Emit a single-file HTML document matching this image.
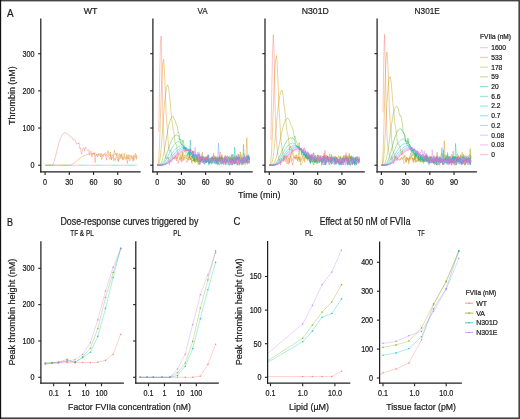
<!DOCTYPE html>
<html><head><meta charset="utf-8"><style>
html,body{margin:0;padding:0;background:#fff;}
#w{width:520px;height:419px;will-change:transform;background:#fff;}
svg{display:block;}
text{font-family:"Liberation Sans", sans-serif;fill:#1a1a1a;stroke:#1a1a1a;stroke-width:0.22px;}
</style></head><body><div id="w">
<svg width="520" height="419" viewBox="0 0 520 419">
<g>
<rect x="0" y="0" width="520" height="419" fill="#fff"/>
<path d="M45.1,165.2L45.9,165.2L46.7,165.2L47.5,165.2L48.3,165.2L49.1,165.2L49.9,165.2L50.7,165.2L51.6,165.2L52.4,164.9L53.2,163.8L54.0,161.8L54.8,159.1L55.6,156.1L56.4,152.8L57.2,149.5L58.0,146.3L58.8,143.4L59.6,140.7L60.4,138.5L61.2,136.6L62.0,135.1L62.9,134.0L63.7,133.3L64.5,132.9L65.3,132.9L66.1,133.1L66.9,133.4L67.7,134.0L68.5,134.6L69.3,135.1L70.1,136.2L70.9,137.4L71.7,137.5L72.5,138.0L73.3,139.8L74.2,139.7L75.0,139.8L75.8,142.4L76.6,144.3L77.4,143.0L78.2,143.9L79.0,142.8L79.8,148.7L80.6,148.0L81.4,154.2L82.2,151.7L83.0,148.1L83.8,147.8L84.6,151.2L85.5,147.0L86.3,148.7L87.1,149.6L87.9,150.5L88.7,149.7L89.5,155.2L90.3,151.2L91.1,151.6L91.9,157.2L92.7,152.8L93.5,154.4L94.3,152.4L95.1,162.6L95.9,154.7L96.7,154.1L97.6,157.0L98.4,153.9L99.2,155.7L100.0,154.5L100.8,157.0L101.6,153.5L102.4,154.8L103.2,156.6L104.0,155.0L104.8,153.7L105.6,152.6L106.4,160.2L107.2,154.8L108.0,155.9L108.9,157.2L109.7,159.3L110.5,154.3L111.3,160.0L112.1,156.0L112.9,154.4L113.7,160.9L114.5,158.1L115.3,160.4L116.1,157.0L116.9,154.2L117.7,153.1L118.5,161.6L119.3,159.0L120.2,156.1L121.0,154.2L121.8,156.8L122.6,159.5L123.4,157.2L124.2,157.9L125.0,158.3L125.8,159.5L126.6,157.0L127.4,163.5L128.2,158.1L129.0,158.4L129.8,160.8L130.6,159.1L131.4,155.3L132.3,158.4L133.1,161.2L133.9,155.0L134.7,156.8L135.5,153.3L136.3,157.9L136.8,159.1" fill="none" stroke="#F8766D" stroke-width="0.7" stroke-opacity="0.6" stroke-linejoin="round"/>
<path d="M45.1,165.2L45.9,165.2L46.7,165.2L47.5,165.2L48.3,165.2L49.1,165.2L49.9,165.2L50.7,165.2L51.6,165.2L52.4,165.2L53.2,165.2L54.0,165.2L54.8,165.2L55.6,165.2L56.4,165.2L57.2,165.2L58.0,165.2L58.8,165.2L59.6,165.2L60.4,165.2L61.2,165.2L62.0,165.2L62.9,165.2L63.7,165.2L64.5,165.2L65.3,165.2L66.1,165.2L66.9,165.2L67.7,165.2L68.5,165.2L69.3,165.2L70.1,165.1L70.9,164.8L71.7,164.5L72.5,164.1L73.3,163.6L74.2,163.0L75.0,162.4L75.8,161.7L76.6,161.1L77.4,160.4L78.2,159.7L79.0,159.0L79.8,158.4L80.6,157.8L81.4,157.2L82.2,156.7L83.0,156.2L83.8,155.7L84.6,155.3L85.5,155.0L86.3,154.6L87.1,154.4L87.9,154.2L88.7,154.0L89.5,153.8L90.3,153.7L91.1,153.9L91.9,154.4L92.7,154.1L93.5,153.0L94.3,154.2L95.1,153.8L95.9,153.9L96.7,155.5L97.6,155.0L98.4,154.0L99.2,154.2L100.0,153.5L100.8,153.6L101.6,159.4L102.4,158.2L103.2,154.9L104.0,153.8L104.8,154.7L105.6,155.6L106.4,154.7L107.2,154.1L108.0,150.6L108.9,155.8L109.7,154.3L110.5,152.0L111.3,159.4L112.1,158.7L112.9,157.7L113.7,155.6L114.5,150.4L115.3,154.7L116.1,153.1L116.9,156.1L117.7,160.7L118.5,160.5L119.3,153.7L120.2,155.5L121.0,158.6L121.8,153.7L122.6,159.2L123.4,159.8L124.2,153.2L125.0,157.8L125.8,158.6L126.6,154.6L127.4,158.6L128.2,154.7L129.0,158.9L129.8,154.9L130.6,156.4L131.4,157.5L132.3,158.5L133.1,156.2L133.9,160.6L134.7,157.4L135.5,157.7L136.3,155.5L136.8,159.5" fill="none" stroke="#DE8C00" stroke-width="0.7" stroke-opacity="0.6" stroke-linejoin="round"/>
<path d="M45.1,165.2L136.8,165.2" fill="none" stroke="#B79F00" stroke-width="0.8" stroke-opacity="0.55" stroke-linejoin="round" stroke-dasharray="1.6 14.4" stroke-dashoffset="-0.0"/>
<path d="M45.1,165.2L136.8,165.2" fill="none" stroke="#7CAE00" stroke-width="0.8" stroke-opacity="0.55" stroke-linejoin="round" stroke-dasharray="1.6 14.4" stroke-dashoffset="-1.6"/>
<path d="M45.1,165.2L136.8,165.2" fill="none" stroke="#00BA38" stroke-width="0.8" stroke-opacity="0.55" stroke-linejoin="round" stroke-dasharray="1.6 14.4" stroke-dashoffset="-3.2"/>
<path d="M45.1,165.2L136.8,165.2" fill="none" stroke="#00C08B" stroke-width="0.8" stroke-opacity="0.55" stroke-linejoin="round" stroke-dasharray="1.6 14.4" stroke-dashoffset="-4.8"/>
<path d="M45.1,165.2L136.8,165.2" fill="none" stroke="#00BFC4" stroke-width="0.8" stroke-opacity="0.55" stroke-linejoin="round" stroke-dasharray="1.6 14.4" stroke-dashoffset="-6.4"/>
<path d="M45.1,165.2L136.8,165.2" fill="none" stroke="#00B4F0" stroke-width="0.8" stroke-opacity="0.55" stroke-linejoin="round" stroke-dasharray="1.6 14.4" stroke-dashoffset="-8.0"/>
<path d="M45.1,165.2L136.8,165.2" fill="none" stroke="#619CFF" stroke-width="0.8" stroke-opacity="0.55" stroke-linejoin="round" stroke-dasharray="1.6 14.4" stroke-dashoffset="-9.6"/>
<path d="M45.1,165.2L136.8,165.2" fill="none" stroke="#C77CFF" stroke-width="0.8" stroke-opacity="0.55" stroke-linejoin="round" stroke-dasharray="1.6 14.4" stroke-dashoffset="-11.2"/>
<path d="M45.1,165.2L136.8,165.2" fill="none" stroke="#F564E3" stroke-width="0.8" stroke-opacity="0.55" stroke-linejoin="round" stroke-dasharray="1.6 14.4" stroke-dashoffset="-12.8"/>
<path d="M45.1,165.2L136.8,165.2" fill="none" stroke="#FF64B0" stroke-width="0.8" stroke-opacity="0.55" stroke-linejoin="round" stroke-dasharray="1.6 14.4" stroke-dashoffset="-14.4"/>
<line x1="40.80" y1="18.50" x2="40.80" y2="172.53" stroke="#231f20" stroke-width="1.25"/>
<line x1="40.17" y1="171.90" x2="140.60" y2="171.90" stroke="#231f20" stroke-width="1.25"/>
<line x1="38.10" y1="165.20" x2="40.80" y2="165.20" stroke="#231f20" stroke-width="1.1"/>
<line x1="38.10" y1="128.03" x2="40.80" y2="128.03" stroke="#231f20" stroke-width="1.1"/>
<line x1="38.10" y1="90.86" x2="40.80" y2="90.86" stroke="#231f20" stroke-width="1.1"/>
<line x1="38.10" y1="53.69" x2="40.80" y2="53.69" stroke="#231f20" stroke-width="1.1"/>
<line x1="45.10" y1="171.90" x2="45.10" y2="174.90" stroke="#231f20" stroke-width="1.1"/>
<text x="45.10" y="185.40" font-size="8.2" text-anchor="middle" textLength="3.99" lengthAdjust="spacingAndGlyphs">0</text>
<line x1="69.31" y1="171.90" x2="69.31" y2="174.90" stroke="#231f20" stroke-width="1.1"/>
<text x="69.31" y="185.40" font-size="8.2" text-anchor="middle" textLength="7.98" lengthAdjust="spacingAndGlyphs">30</text>
<line x1="93.52" y1="171.90" x2="93.52" y2="174.90" stroke="#231f20" stroke-width="1.1"/>
<text x="93.52" y="185.40" font-size="8.2" text-anchor="middle" textLength="7.98" lengthAdjust="spacingAndGlyphs">60</text>
<line x1="117.73" y1="171.90" x2="117.73" y2="174.90" stroke="#231f20" stroke-width="1.1"/>
<text x="117.73" y="185.40" font-size="8.2" text-anchor="middle" textLength="7.98" lengthAdjust="spacingAndGlyphs">90</text>
<text x="90.65" y="13.80" font-size="9.95" text-anchor="middle" textLength="13.70" lengthAdjust="spacingAndGlyphs">WT</text>
<path d="M158.8,131.9L159.6,81.0L160.4,43.0L161.2,35.8L162.0,76.0L162.8,115.8L163.7,136.5L164.5,151.0L165.3,154.5L166.1,158.6L166.9,157.2L167.7,159.1L168.5,157.2L169.3,165.2L170.1,160.2L170.9,162.3L171.7,161.5L172.5,158.3L173.3,158.5L174.1,158.8L175.0,158.4L175.8,155.0L176.6,161.0L177.4,156.5L178.2,163.5L179.0,159.6L179.8,158.1L180.6,160.4L181.4,158.1L182.2,158.3L183.0,161.2L183.8,158.7L184.6,159.3L185.4,160.0L186.3,160.6L187.1,162.6L187.9,157.2L188.7,160.5L189.5,154.7L190.3,159.7L191.1,156.2L191.9,157.3L192.7,157.5L193.5,156.7L194.3,156.5L195.1,155.4L195.9,154.6L196.7,159.3L197.5,161.3L198.4,164.5L199.2,159.4L200.0,156.8L200.8,157.7L201.6,158.3L202.4,159.3L203.2,159.9L204.0,159.1L204.8,157.6L205.6,162.4L206.4,156.9L207.2,161.8L208.0,158.9L208.8,159.9L209.7,159.3L210.5,160.8L211.3,161.1L212.1,159.0L212.9,160.9L213.7,153.0L214.5,159.4L215.3,160.0L216.1,159.7L216.9,160.9L217.7,164.0L218.5,159.1L219.3,157.8L220.1,161.9L221.0,158.5L221.8,161.2L222.6,158.6L223.4,157.7L224.2,157.4L225.0,157.6L225.8,160.1L226.6,156.6L227.4,159.5L228.2,157.7L229.0,157.0L229.8,159.2L230.6,161.4L231.4,157.2L232.3,161.0L233.1,160.5L233.9,161.0L234.7,156.6L235.5,158.9L236.3,163.5L237.1,156.9L237.9,153.9L238.7,154.5L239.5,159.8L240.3,158.4L241.1,157.4L241.9,156.5L242.7,158.5L243.5,161.0L244.4,156.8L245.2,157.2L246.0,161.5L246.8,159.4L247.6,157.9L248.4,158.5L249.2,157.4L249.4,156.8" fill="none" stroke="#F8766D" stroke-width="0.7" stroke-opacity="0.6" stroke-linejoin="round"/>
<path d="M157.2,165.2L158.0,164.7L158.8,158.9L159.6,143.1L160.4,119.5L161.2,94.7L162.0,74.5L162.8,62.6L163.7,59.4L164.5,71.6L165.3,90.9L166.1,112.5L166.9,124.0L167.7,133.9L168.5,145.9L169.3,151.2L170.1,151.2L170.9,150.4L171.7,155.6L172.5,157.4L173.3,158.1L174.1,157.2L175.0,159.4L175.8,156.6L176.6,158.9L177.4,157.4L178.2,155.2L179.0,155.9L179.8,159.6L180.6,156.3L181.4,162.1L182.2,157.4L183.0,152.2L183.8,158.5L184.6,157.2L185.4,158.1L186.3,158.3L187.1,159.3L187.9,159.6L188.7,158.9L189.5,159.2L190.3,158.0L191.1,158.4L191.9,163.4L192.7,153.6L193.5,157.9L194.3,162.0L195.1,158.6L195.9,158.3L196.7,157.8L197.5,156.7L198.4,160.2L199.2,164.8L200.0,158.5L200.8,157.7L201.6,156.0L202.4,159.9L203.2,158.8L204.0,157.3L204.8,158.9L205.6,158.8L206.4,157.7L207.2,160.5L208.0,154.7L208.8,160.3L209.7,158.2L210.5,159.0L211.3,159.8L212.1,157.0L212.9,156.0L213.7,155.0L214.5,156.9L215.3,159.2L216.1,156.3L216.9,161.5L217.7,158.1L218.5,157.1L219.3,157.0L220.1,160.8L221.0,161.6L221.8,154.5L222.6,159.4L223.4,161.9L224.2,161.0L225.0,158.2L225.8,155.6L226.6,158.3L227.4,155.6L228.2,157.8L229.0,157.2L229.8,156.1L230.6,159.1L231.4,157.6L232.3,159.2L233.1,159.7L233.9,156.8L234.7,160.1L235.5,158.1L236.3,160.1L237.1,158.5L237.9,159.5L238.7,155.9L239.5,158.2L240.3,158.2L241.1,154.7L241.9,164.8L242.7,160.8L243.5,164.5L244.4,158.4L245.2,157.4L246.0,156.9L246.8,137.8L247.6,160.3L248.4,154.5L249.2,157.7L249.4,159.0" fill="none" stroke="#DE8C00" stroke-width="0.7" stroke-opacity="0.6" stroke-linejoin="round"/>
<path d="M157.2,165.2L158.0,165.2L158.8,164.4L159.6,161.8L160.4,156.4L161.2,148.2L162.0,137.8L162.8,126.3L163.7,114.9L164.5,104.6L165.3,96.1L166.1,90.0L166.9,86.3L167.7,84.9L168.5,87.3L169.3,93.5L170.1,100.9L170.9,110.9L171.7,118.2L172.5,125.2L173.3,130.3L174.1,133.6L175.0,143.1L175.8,144.0L176.6,144.9L177.4,154.4L178.2,153.3L179.0,155.6L179.8,154.2L180.6,154.6L181.4,158.1L182.2,152.4L183.0,158.4L183.8,159.8L184.6,154.9L185.4,155.8L186.3,158.7L187.1,157.0L187.9,156.1L188.7,158.0L189.5,156.6L190.3,160.1L191.1,157.9L191.9,161.8L192.7,160.1L193.5,160.7L194.3,156.8L195.1,161.7L195.9,157.5L196.7,162.0L197.5,158.6L198.4,158.8L199.2,160.1L200.0,156.3L200.8,162.0L201.6,156.8L202.4,152.2L203.2,160.1L204.0,158.2L204.8,161.8L205.6,158.3L206.4,162.2L207.2,156.8L208.0,159.4L208.8,162.4L209.7,161.2L210.5,161.9L211.3,158.9L212.1,156.4L212.9,159.2L213.7,161.0L214.5,160.2L215.3,158.1L216.1,163.9L216.9,157.0L217.7,157.4L218.5,163.9L219.3,155.7L220.1,162.1L221.0,158.9L221.8,155.7L222.6,162.1L223.4,162.6L224.2,160.9L225.0,160.9L225.8,158.7L226.6,159.6L227.4,159.5L228.2,159.5L229.0,158.8L229.8,160.4L230.6,157.7L231.4,158.4L232.3,160.7L233.1,154.3L233.9,161.3L234.7,156.7L235.5,160.1L236.3,157.6L237.1,157.2L237.9,156.4L238.7,155.2L239.5,160.3L240.3,151.9L241.1,157.5L241.9,160.2L242.7,161.5L243.5,153.0L244.4,154.6L245.2,158.4L246.0,156.6L246.8,155.4L247.6,158.1L248.4,159.3L249.2,158.4L249.4,156.4" fill="none" stroke="#B79F00" stroke-width="0.7" stroke-opacity="0.6" stroke-linejoin="round"/>
<path d="M157.2,165.2L158.0,165.2L158.8,165.1L159.6,164.9L160.4,164.2L161.2,162.9L162.0,160.8L162.8,157.8L163.7,154.1L164.5,149.7L165.3,145.0L166.1,140.1L166.9,135.2L167.7,130.7L168.5,126.6L169.3,123.1L170.1,120.4L170.9,118.4L171.7,117.1L172.5,116.5L173.3,116.5L174.1,119.0L175.0,120.4L175.8,122.9L176.6,125.1L177.4,126.7L178.2,133.1L179.0,132.6L179.8,139.7L180.6,142.4L181.4,144.9L182.2,143.5L183.0,146.2L183.8,150.1L184.6,151.5L185.4,150.2L186.3,156.7L187.1,155.2L187.9,154.1L188.7,152.8L189.5,152.6L190.3,149.2L191.1,155.9L191.9,158.5L192.7,156.9L193.5,159.1L194.3,157.8L195.1,162.8L195.9,160.0L196.7,159.1L197.5,162.3L198.4,162.1L199.2,156.9L200.0,164.7L200.8,159.5L201.6,160.6L202.4,157.0L203.2,160.4L204.0,164.0L204.8,157.5L205.6,161.6L206.4,156.0L207.2,156.8L208.0,160.7L208.8,158.8L209.7,160.2L210.5,162.6L211.3,158.3L212.1,159.7L212.9,158.8L213.7,158.3L214.5,157.6L215.3,158.4L216.1,160.9L216.9,160.5L217.7,159.8L218.5,161.0L219.3,161.2L220.1,156.6L221.0,159.6L221.8,156.5L222.6,162.4L223.4,160.8L224.2,161.7L225.0,161.6L225.8,161.4L226.6,161.0L227.4,161.7L228.2,156.8L229.0,159.2L229.8,162.4L230.6,161.9L231.4,159.1L232.3,159.5L233.1,162.1L233.9,158.7L234.7,163.9L235.5,161.8L236.3,156.9L237.1,165.2L237.9,161.2L238.7,158.6L239.5,157.1L240.3,162.5L241.1,162.7L241.9,165.2L242.7,163.7L243.5,160.6L244.4,162.0L245.2,160.8L246.0,161.1L246.8,160.1L247.6,164.4L248.4,161.4L249.2,161.5L249.4,160.9" fill="none" stroke="#7CAE00" stroke-width="0.7" stroke-opacity="0.6" stroke-linejoin="round"/>
<path d="M157.2,165.2L158.0,165.2L158.8,165.2L159.6,165.1L160.4,165.0L161.2,164.6L162.0,163.9L162.8,163.0L163.7,161.7L164.5,160.1L165.3,158.2L166.1,156.1L166.9,153.7L167.7,151.3L168.5,148.9L169.3,146.5L170.1,144.2L170.9,142.1L171.7,140.3L172.5,138.7L173.3,137.4L174.1,136.3L175.0,135.6L175.8,135.2L176.6,134.8L177.4,135.4L178.2,135.5L179.0,137.6L179.8,140.1L180.6,139.0L181.4,142.2L182.2,142.6L183.0,140.0L183.8,144.0L184.6,148.8L185.4,147.6L186.3,150.7L187.1,151.6L187.9,155.9L188.7,152.0L189.5,157.4L190.3,154.7L191.1,153.9L191.9,153.5L192.7,151.0L193.5,160.7L194.3,159.6L195.1,160.7L195.9,159.0L196.7,157.2L197.5,160.6L198.4,160.0L199.2,161.4L200.0,160.5L200.8,160.3L201.6,159.7L202.4,162.8L203.2,159.9L204.0,158.6L204.8,159.2L205.6,162.8L206.4,158.9L207.2,158.4L208.0,161.0L208.8,163.1L209.7,163.7L210.5,160.3L211.3,162.8L212.1,163.5L212.9,158.5L213.7,158.5L214.5,159.1L215.3,157.7L216.1,158.6L216.9,163.2L217.7,158.1L218.5,160.4L219.3,159.7L220.1,157.2L221.0,159.7L221.8,157.2L222.6,160.6L223.4,161.6L224.2,162.3L225.0,161.0L225.8,164.5L226.6,160.9L227.4,161.0L228.2,161.9L229.0,165.2L229.8,165.2L230.6,159.2L231.4,162.9L232.3,157.7L233.1,162.3L233.9,159.9L234.7,164.0L235.5,162.2L236.3,155.3L237.1,159.4L237.9,157.0L238.7,158.6L239.5,164.0L240.3,160.7L241.1,161.1L241.9,162.2L242.7,159.4L243.5,157.2L244.4,161.8L245.2,158.2L246.0,157.6L246.8,163.1L247.6,156.8L248.4,157.0L249.2,160.1L249.4,156.9" fill="none" stroke="#00BA38" stroke-width="0.7" stroke-opacity="0.6" stroke-linejoin="round"/>
<path d="M157.2,165.2L158.0,165.2L158.8,165.2L159.6,165.2L160.4,165.1L161.2,164.9L162.0,164.5L162.8,164.0L163.7,163.3L164.5,162.3L165.3,161.2L166.1,159.8L166.9,158.3L167.7,156.7L168.5,155.0L169.3,153.3L170.1,151.6L170.9,149.9L171.7,148.4L172.5,146.9L173.3,145.7L174.1,144.5L175.0,143.6L175.8,142.9L176.6,142.3L177.4,142.0L178.2,141.9L179.0,141.5L179.8,142.3L180.6,142.8L181.4,144.3L182.2,144.4L183.0,145.3L183.8,145.9L184.6,149.4L185.4,147.8L186.3,151.2L187.1,150.7L187.9,150.2L188.7,149.3L189.5,154.5L190.3,139.9L191.1,154.5L191.9,152.7L192.7,156.7L193.5,151.0L194.3,161.1L195.1,153.9L195.9,155.0L196.7,155.5L197.5,160.1L198.4,153.8L199.2,156.1L200.0,156.2L200.8,159.7L201.6,159.9L202.4,156.6L203.2,158.8L204.0,160.5L204.8,161.7L205.6,159.3L206.4,163.0L207.2,158.8L208.0,159.8L208.8,163.7L209.7,159.2L210.5,157.6L211.3,159.8L212.1,163.3L212.9,161.8L213.7,158.5L214.5,163.4L215.3,161.3L216.1,157.9L216.9,161.1L217.7,161.8L218.5,158.7L219.3,156.9L220.1,159.7L221.0,163.5L221.8,164.2L222.6,161.1L223.4,164.6L224.2,160.8L225.0,158.6L225.8,165.2L226.6,161.0L227.4,159.9L228.2,161.8L229.0,159.7L229.8,159.5L230.6,158.3L231.4,154.5L232.3,159.9L233.1,162.6L233.9,162.9L234.7,147.1L235.5,159.0L236.3,159.9L237.1,159.6L237.9,160.2L238.7,157.0L239.5,158.2L240.3,158.3L241.1,162.2L241.9,161.4L242.7,163.6L243.5,144.5L244.4,160.4L245.2,163.4L246.0,162.1L246.8,156.1L247.6,161.0L248.4,163.0L249.2,163.4L249.4,160.8" fill="none" stroke="#00C08B" stroke-width="0.7" stroke-opacity="0.6" stroke-linejoin="round"/>
<path d="M157.2,165.2L158.0,165.2L158.8,165.2L159.6,165.2L160.4,165.1L161.2,165.0L162.0,164.9L162.8,164.6L163.7,164.2L164.5,163.6L165.3,163.0L166.1,162.2L166.9,161.2L167.7,160.2L168.5,159.0L169.3,157.8L170.1,156.6L170.9,155.3L171.7,154.1L172.5,152.9L173.3,151.7L174.1,150.6L175.0,149.6L175.8,148.8L176.6,148.0L177.4,147.3L178.2,146.8L179.0,146.4L179.8,146.1L180.6,145.9L181.4,146.1L182.2,145.7L183.0,145.7L183.8,149.0L184.6,146.5L185.4,149.6L186.3,147.2L187.1,149.9L187.9,150.9L188.7,149.1L189.5,153.4L190.3,148.6L191.1,156.3L191.9,156.1L192.7,157.8L193.5,154.6L194.3,156.5L195.1,155.0L195.9,154.7L196.7,155.7L197.5,155.4L198.4,155.7L199.2,158.7L200.0,160.4L200.8,161.2L201.6,157.4L202.4,160.5L203.2,161.7L204.0,161.5L204.8,160.3L205.6,159.3L206.4,160.5L207.2,162.4L208.0,158.9L208.8,165.2L209.7,161.0L210.5,158.0L211.3,159.8L212.1,157.7L212.9,160.3L213.7,159.2L214.5,160.5L215.3,161.6L216.1,159.8L216.9,158.4L217.7,165.2L218.5,162.6L219.3,165.2L220.1,162.9L221.0,163.7L221.8,161.9L222.6,161.5L223.4,158.6L224.2,158.0L225.0,162.7L225.8,162.0L226.6,159.4L227.4,162.3L228.2,161.8L229.0,165.1L229.8,159.2L230.6,160.3L231.4,163.1L232.3,163.9L233.1,163.3L233.9,159.9L234.7,162.0L235.5,163.7L236.3,161.6L237.1,158.9L237.9,158.0L238.7,157.8L239.5,160.6L240.3,160.3L241.1,160.2L241.9,159.3L242.7,159.5L243.5,163.0L244.4,162.5L245.2,161.7L246.0,159.2L246.8,162.0L247.6,162.6L248.4,158.5L249.2,157.5L249.4,162.9" fill="none" stroke="#00BFC4" stroke-width="0.7" stroke-opacity="0.6" stroke-linejoin="round"/>
<path d="M157.2,165.2L158.0,165.2L158.8,165.2L159.6,165.2L160.4,165.2L161.2,165.1L162.0,165.0L162.8,164.8L163.7,164.5L164.5,164.2L165.3,163.7L166.1,163.1L166.9,162.5L167.7,161.7L168.5,160.8L169.3,159.9L170.1,158.9L170.9,157.9L171.7,156.8L172.5,155.8L173.3,154.7L174.1,153.7L175.0,152.8L175.8,151.8L176.6,151.0L177.4,150.2L178.2,149.6L179.0,149.0L179.8,148.5L180.6,148.1L181.4,147.7L182.2,147.5L183.0,147.4L183.8,147.4L184.6,147.2L185.4,149.7L186.3,148.0L187.1,149.5L187.9,149.3L188.7,149.4L189.5,155.2L190.3,152.3L191.1,152.9L191.9,152.3L192.7,151.7L193.5,153.2L194.3,157.1L195.1,154.4L195.9,158.1L196.7,155.1L197.5,157.7L198.4,158.0L199.2,157.7L200.0,161.8L200.8,159.2L201.6,161.4L202.4,156.9L203.2,156.3L204.0,162.6L204.8,164.5L205.6,159.1L206.4,161.1L207.2,162.0L208.0,154.9L208.8,161.0L209.7,162.5L210.5,160.9L211.3,159.7L212.1,156.8L212.9,159.7L213.7,163.2L214.5,161.6L215.3,156.4L216.1,164.4L216.9,160.7L217.7,158.0L218.5,160.0L219.3,161.1L220.1,162.6L221.0,160.3L221.8,159.5L222.6,160.2L223.4,158.4L224.2,160.2L225.0,157.8L225.8,160.4L226.6,158.7L227.4,161.4L228.2,156.8L229.0,157.9L229.8,159.2L230.6,162.9L231.4,160.3L232.3,165.2L233.1,161.5L233.9,160.3L234.7,162.7L235.5,160.4L236.3,159.2L237.1,156.7L237.9,160.7L238.7,164.2L239.5,165.2L240.3,161.1L241.1,158.7L241.9,158.2L242.7,160.5L243.5,162.2L244.4,162.3L245.2,161.0L246.0,160.5L246.8,159.4L247.6,160.4L248.4,156.2L249.2,160.4L249.4,159.6" fill="none" stroke="#00B4F0" stroke-width="0.7" stroke-opacity="0.6" stroke-linejoin="round"/>
<path d="M157.2,165.2L158.0,165.2L158.8,165.2L159.6,165.2L160.4,165.2L161.2,165.1L162.0,165.0L162.8,164.9L163.7,164.7L164.5,164.4L165.3,164.1L166.1,163.6L166.9,163.1L167.7,162.5L168.5,161.8L169.3,161.0L170.1,160.2L170.9,159.3L171.7,158.4L172.5,157.4L173.3,156.5L174.1,155.6L175.0,154.7L175.8,153.8L176.6,153.0L177.4,152.2L178.2,151.5L179.0,150.9L179.8,150.3L180.6,149.8L181.4,149.4L182.2,149.1L183.0,148.8L183.8,148.6L184.6,148.5L185.4,148.6L186.3,148.6L187.1,148.1L187.9,148.8L188.7,151.3L189.5,151.3L190.3,152.9L191.1,153.3L191.9,154.0L192.7,155.9L193.5,153.1L194.3,152.7L195.1,154.9L195.9,156.9L196.7,155.9L197.5,158.4L198.4,154.8L199.2,152.2L200.0,163.8L200.8,157.3L201.6,158.3L202.4,158.2L203.2,159.5L204.0,162.4L204.8,159.4L205.6,160.3L206.4,159.9L207.2,159.8L208.0,160.9L208.8,154.8L209.7,162.8L210.5,161.0L211.3,163.0L212.1,160.6L212.9,156.8L213.7,160.4L214.5,162.2L215.3,163.4L216.1,159.2L216.9,162.1L217.7,159.1L218.5,143.1L219.3,161.7L220.1,160.7L221.0,164.3L221.8,157.9L222.6,163.2L223.4,160.3L224.2,159.6L225.0,155.4L225.8,159.6L226.6,158.8L227.4,161.8L228.2,161.0L229.0,160.7L229.8,158.3L230.6,162.9L231.4,159.8L232.3,154.3L233.1,162.8L233.9,164.8L234.7,161.9L235.5,161.0L236.3,157.0L237.1,159.6L237.9,158.1L238.7,162.3L239.5,160.8L240.3,160.0L241.1,162.6L241.9,160.0L242.7,161.3L243.5,160.2L244.4,163.8L245.2,165.2L246.0,157.6L246.8,160.6L247.6,160.9L248.4,154.9L249.2,158.4L249.4,159.6" fill="none" stroke="#619CFF" stroke-width="0.7" stroke-opacity="0.6" stroke-linejoin="round"/>
<path d="M157.2,165.2L158.0,165.2L158.8,165.2L159.6,165.2L160.4,165.2L161.2,165.1L162.0,165.1L162.8,165.0L163.7,164.8L164.5,164.6L165.3,164.3L166.1,163.9L166.9,163.4L167.7,162.9L168.5,162.3L169.3,161.6L170.1,160.9L170.9,160.1L171.7,159.3L172.5,158.5L173.3,157.6L174.1,156.8L175.0,155.9L175.8,155.1L176.6,154.3L177.4,153.6L178.2,152.8L179.0,152.2L179.8,151.6L180.6,151.1L181.4,150.6L182.2,150.2L183.0,149.9L183.8,149.6L184.6,149.4L185.4,149.3L186.3,149.3L187.1,149.0L187.9,149.4L188.7,149.8L189.5,151.0L190.3,150.0L191.1,150.1L191.9,150.0L192.7,152.6L193.5,153.4L194.3,151.9L195.1,147.3L195.9,155.9L196.7,156.1L197.5,152.3L198.4,159.3L199.2,162.9L200.0,155.3L200.8,154.7L201.6,155.1L202.4,156.1L203.2,156.2L204.0,160.4L204.8,156.7L205.6,161.5L206.4,162.9L207.2,160.0L208.0,162.6L208.8,162.3L209.7,161.4L210.5,160.9L211.3,159.7L212.1,162.5L212.9,161.6L213.7,160.6L214.5,160.0L215.3,159.3L216.1,158.7L216.9,159.9L217.7,159.5L218.5,159.0L219.3,160.6L220.1,160.1L221.0,162.6L221.8,160.1L222.6,158.4L223.4,162.1L224.2,157.6L225.0,161.8L225.8,158.2L226.6,156.9L227.4,160.1L228.2,161.5L229.0,159.6L229.8,161.6L230.6,162.7L231.4,158.3L232.3,165.0L233.1,158.6L233.9,162.4L234.7,158.6L235.5,161.8L236.3,156.6L237.1,161.8L237.9,165.2L238.7,154.1L239.5,160.6L240.3,161.0L241.1,160.7L241.9,161.4L242.7,160.0L243.5,162.4L244.4,155.8L245.2,162.3L246.0,159.3L246.8,157.7L247.6,161.2L248.4,158.7L249.2,161.9L249.4,163.0" fill="none" stroke="#C77CFF" stroke-width="0.7" stroke-opacity="0.6" stroke-linejoin="round"/>
<path d="M157.2,165.2L158.0,165.2L158.8,165.2L159.6,165.2L160.4,165.2L161.2,165.2L162.0,165.1L162.8,165.0L163.7,164.9L164.5,164.7L165.3,164.4L166.1,164.1L166.9,163.7L167.7,163.2L168.5,162.7L169.3,162.1L170.1,161.4L170.9,160.7L171.7,160.0L172.5,159.2L173.3,158.4L174.1,157.6L175.0,156.8L175.8,156.1L176.6,155.3L177.4,154.6L178.2,153.9L179.0,153.2L179.8,152.6L180.6,152.1L181.4,151.6L182.2,151.2L183.0,150.8L183.8,150.5L184.6,150.3L185.4,150.1L186.3,150.0L187.1,149.9L187.9,150.2L188.7,150.2L189.5,151.1L190.3,151.5L191.1,150.5L191.9,150.8L192.7,154.3L193.5,153.8L194.3,154.3L195.1,156.7L195.9,156.1L196.7,158.1L197.5,155.0L198.4,158.8L199.2,153.9L200.0,161.8L200.8,156.5L201.6,156.7L202.4,159.8L203.2,162.4L204.0,158.5L204.8,161.8L205.6,156.8L206.4,159.2L207.2,159.6L208.0,159.5L208.8,158.1L209.7,160.0L210.5,158.8L211.3,159.3L212.1,161.3L212.9,157.8L213.7,156.7L214.5,157.9L215.3,160.1L216.1,158.9L216.9,162.9L217.7,162.4L218.5,162.5L219.3,161.9L220.1,158.8L221.0,162.5L221.8,162.1L222.6,164.0L223.4,162.2L224.2,164.4L225.0,158.7L225.8,161.1L226.6,158.7L227.4,157.7L228.2,159.7L229.0,160.0L229.8,160.5L230.6,161.7L231.4,165.2L232.3,160.4L233.1,162.3L233.9,163.0L234.7,162.1L235.5,160.8L236.3,159.2L237.1,163.0L237.9,163.6L238.7,158.4L239.5,159.6L240.3,159.0L241.1,161.4L241.9,163.9L242.7,157.8L243.5,158.0L244.4,162.1L245.2,159.9L246.0,158.4L246.8,155.3L247.6,158.1L248.4,159.5L249.2,161.2L249.4,161.8" fill="none" stroke="#F564E3" stroke-width="0.7" stroke-opacity="0.6" stroke-linejoin="round"/>
<path d="M157.2,165.2L158.0,165.2L158.8,165.2L159.6,165.2L160.4,165.2L161.2,165.2L162.0,165.1L162.8,165.0L163.7,164.9L164.5,164.7L165.3,164.5L166.1,164.2L166.9,163.8L167.7,163.4L168.5,162.9L169.3,162.4L170.1,161.8L170.9,161.1L171.7,160.4L172.5,159.7L173.3,159.0L174.1,158.2L175.0,157.5L175.8,156.7L176.6,156.0L177.4,155.3L178.2,154.6L179.0,154.0L179.8,153.4L180.6,152.8L181.4,152.3L182.2,151.9L183.0,151.5L183.8,151.1L184.6,150.9L185.4,150.7L186.3,150.5L187.1,150.4L187.9,150.3L188.7,149.9L189.5,151.2L190.3,150.1L191.1,152.3L191.9,152.9L192.7,152.2L193.5,152.2L194.3,152.1L195.1,151.6L195.9,157.1L196.7,155.2L197.5,154.1L198.4,155.7L199.2,154.2L200.0,157.0L200.8,158.1L201.6,162.7L202.4,162.2L203.2,156.6L204.0,161.1L204.8,158.1L205.6,157.6L206.4,159.5L207.2,157.1L208.0,160.9L208.8,158.3L209.7,160.0L210.5,163.1L211.3,164.3L212.1,160.5L212.9,156.5L213.7,157.6L214.5,159.2L215.3,158.5L216.1,158.3L216.9,160.9L217.7,157.5L218.5,159.9L219.3,161.6L220.1,152.0L221.0,159.0L221.8,160.8L222.6,158.9L223.4,163.2L224.2,163.3L225.0,156.4L225.8,159.2L226.6,163.0L227.4,164.2L228.2,160.9L229.0,162.9L229.8,157.7L230.6,164.9L231.4,158.0L232.3,162.9L233.1,163.4L233.9,160.6L234.7,163.5L235.5,162.0L236.3,162.0L237.1,165.2L237.9,163.4L238.7,160.0L239.5,165.2L240.3,163.8L241.1,162.8L241.9,158.7L242.7,158.7L243.5,157.5L244.4,162.9L245.2,159.0L246.0,160.2L246.8,163.6L247.6,159.6L248.4,160.8L249.2,162.2L249.4,163.2" fill="none" stroke="#FF64B0" stroke-width="0.7" stroke-opacity="0.6" stroke-linejoin="round"/>
<line x1="152.90" y1="18.50" x2="152.90" y2="172.53" stroke="#231f20" stroke-width="1.25"/>
<line x1="152.27" y1="171.90" x2="252.70" y2="171.90" stroke="#231f20" stroke-width="1.25"/>
<line x1="150.20" y1="165.20" x2="152.90" y2="165.20" stroke="#231f20" stroke-width="1.1"/>
<line x1="150.20" y1="128.03" x2="152.90" y2="128.03" stroke="#231f20" stroke-width="1.1"/>
<line x1="150.20" y1="90.86" x2="152.90" y2="90.86" stroke="#231f20" stroke-width="1.1"/>
<line x1="150.20" y1="53.69" x2="152.90" y2="53.69" stroke="#231f20" stroke-width="1.1"/>
<line x1="157.20" y1="171.90" x2="157.20" y2="174.90" stroke="#231f20" stroke-width="1.1"/>
<text x="157.20" y="185.40" font-size="8.2" text-anchor="middle" textLength="3.99" lengthAdjust="spacingAndGlyphs">0</text>
<line x1="181.41" y1="171.90" x2="181.41" y2="174.90" stroke="#231f20" stroke-width="1.1"/>
<text x="181.41" y="185.40" font-size="8.2" text-anchor="middle" textLength="7.98" lengthAdjust="spacingAndGlyphs">30</text>
<line x1="205.62" y1="171.90" x2="205.62" y2="174.90" stroke="#231f20" stroke-width="1.1"/>
<text x="205.62" y="185.40" font-size="8.2" text-anchor="middle" textLength="7.98" lengthAdjust="spacingAndGlyphs">60</text>
<line x1="229.83" y1="171.90" x2="229.83" y2="174.90" stroke="#231f20" stroke-width="1.1"/>
<text x="229.83" y="185.40" font-size="8.2" text-anchor="middle" textLength="7.98" lengthAdjust="spacingAndGlyphs">90</text>
<text x="202.60" y="13.80" font-size="9.95" text-anchor="middle" textLength="10.20" lengthAdjust="spacingAndGlyphs">VA</text>
<path d="M270.9,140.0L271.7,95.5L272.5,54.2L273.3,34.6L274.1,52.8L274.9,96.4L275.8,130.6L276.6,142.4L277.4,150.5L278.2,156.2L279.0,160.5L279.8,159.3L280.6,165.2L281.4,158.4L282.2,159.1L283.0,160.9L283.8,161.2L284.6,155.5L285.4,161.8L286.2,158.1L287.1,158.2L287.9,155.7L288.7,164.4L289.5,159.7L290.3,155.7L291.1,161.5L291.9,161.6L292.7,165.2L293.5,160.0L294.3,158.8L295.1,155.1L295.9,158.3L296.7,157.8L297.5,157.5L298.4,157.1L299.2,161.8L300.0,156.9L300.8,161.8L301.6,158.2L302.4,156.7L303.2,156.1L304.0,158.7L304.8,157.2L305.6,155.1L306.4,156.3L307.2,158.5L308.0,157.7L308.8,158.4L309.7,158.3L310.5,156.8L311.3,156.0L312.1,158.4L312.9,156.8L313.7,157.8L314.5,158.1L315.3,160.6L316.1,157.6L316.9,158.7L317.7,157.8L318.5,156.2L319.3,156.7L320.1,156.8L320.9,159.5L321.8,162.0L322.6,159.3L323.4,158.5L324.2,158.0L325.0,155.4L325.8,157.8L326.6,155.3L327.4,159.3L328.2,160.8L329.0,156.5L329.8,160.9L330.6,161.9L331.4,159.7L332.2,157.7L333.1,156.0L333.9,158.4L334.7,156.4L335.5,158.5L336.3,162.0L337.1,160.9L337.9,162.1L338.7,158.9L339.5,163.0L340.3,161.6L341.1,160.3L341.9,156.5L342.7,157.3L343.5,159.3L344.4,158.0L345.2,159.0L346.0,152.5L346.8,162.1L347.6,162.9L348.4,162.7L349.2,161.6L350.0,159.3L350.8,156.5L351.6,159.0L352.4,159.1L353.2,158.9L354.0,158.1L354.8,160.6L355.6,157.2L356.5,158.7L357.3,158.0L358.1,157.4L358.9,157.3L359.3,156.8" fill="none" stroke="#F8766D" stroke-width="0.7" stroke-opacity="0.6" stroke-linejoin="round"/>
<path d="M269.3,165.2L270.1,164.9L270.9,161.0L271.7,149.5L272.5,130.5L273.3,107.7L274.1,85.9L274.9,69.0L275.8,58.8L276.6,55.5L277.4,66.9L278.2,86.4L279.0,108.4L279.8,120.6L280.6,135.1L281.4,143.8L282.2,149.7L283.0,155.2L283.8,160.7L284.6,155.8L285.4,157.5L286.2,155.9L287.1,164.0L287.9,158.3L288.7,158.2L289.5,162.9L290.3,154.1L291.1,156.7L291.9,160.5L292.7,160.2L293.5,157.2L294.3,157.2L295.1,157.4L295.9,159.4L296.7,154.6L297.5,159.8L298.4,157.9L299.2,157.0L300.0,158.7L300.8,159.8L301.6,159.7L302.4,158.5L303.2,158.3L304.0,158.6L304.8,162.5L305.6,155.6L306.4,156.2L307.2,158.3L308.0,155.8L308.8,158.0L309.7,154.5L310.5,158.7L311.3,160.0L312.1,159.4L312.9,158.2L313.7,158.1L314.5,159.7L315.3,159.6L316.1,161.3L316.9,159.6L317.7,154.9L318.5,158.9L319.3,160.6L320.1,159.9L320.9,160.1L321.8,158.7L322.6,160.3L323.4,156.0L324.2,160.3L325.0,159.1L325.8,155.3L326.6,158.6L327.4,155.8L328.2,158.9L329.0,156.8L329.8,153.8L330.6,160.5L331.4,157.4L332.2,160.9L333.1,158.6L333.9,160.0L334.7,158.2L335.5,161.1L336.3,163.1L337.1,157.3L337.9,158.3L338.7,155.7L339.5,158.1L340.3,158.3L341.1,160.4L341.9,161.5L342.7,158.2L343.5,161.1L344.4,155.5L345.2,155.4L346.0,157.3L346.8,155.9L347.6,158.7L348.4,159.7L349.2,153.2L350.0,159.0L350.8,155.7L351.6,160.3L352.4,157.6L353.2,156.6L354.0,162.2L354.8,161.8L355.6,160.1L356.5,159.3L357.3,158.4L358.1,160.2L358.9,160.1L359.3,160.8" fill="none" stroke="#DE8C00" stroke-width="0.7" stroke-opacity="0.6" stroke-linejoin="round"/>
<path d="M269.3,165.2L270.1,165.2L270.9,164.8L271.7,163.5L272.5,160.6L273.3,155.8L274.1,149.2L274.9,141.2L275.8,132.4L276.6,123.3L277.4,114.7L278.2,106.9L279.0,100.5L279.8,95.6L280.6,92.2L281.4,90.5L282.2,90.4L283.0,94.4L283.8,103.6L284.6,108.2L285.4,115.3L286.2,124.1L287.1,131.9L287.9,134.7L288.7,140.4L289.5,150.0L290.3,145.6L291.1,147.8L291.9,155.3L292.7,149.2L293.5,156.8L294.3,158.0L295.1,158.1L295.9,156.7L296.7,157.3L297.5,161.2L298.4,158.8L299.2,142.4L300.0,159.7L300.8,165.2L301.6,163.5L302.4,162.5L303.2,159.8L304.0,159.6L304.8,157.7L305.6,154.0L306.4,158.7L307.2,159.1L308.0,158.6L308.8,158.6L309.7,155.8L310.5,158.6L311.3,161.4L312.1,162.9L312.9,162.5L313.7,159.5L314.5,161.4L315.3,162.0L316.1,159.5L316.9,159.8L317.7,160.1L318.5,154.8L319.3,156.7L320.1,161.6L320.9,156.8L321.8,159.1L322.6,160.6L323.4,160.1L324.2,152.9L325.0,159.1L325.8,160.8L326.6,159.2L327.4,157.2L328.2,158.5L329.0,159.3L329.8,160.9L330.6,160.3L331.4,161.9L332.2,158.8L333.1,157.7L333.9,157.8L334.7,159.0L335.5,155.9L336.3,157.9L337.1,157.5L337.9,161.2L338.7,159.6L339.5,159.8L340.3,156.4L341.1,159.0L341.9,159.1L342.7,159.3L343.5,155.4L344.4,159.9L345.2,160.4L346.0,158.2L346.8,158.9L347.6,155.6L348.4,156.1L349.2,158.0L350.0,159.0L350.8,158.6L351.6,155.6L352.4,157.7L353.2,157.2L354.0,163.9L354.8,161.2L355.6,159.0L356.5,157.2L357.3,157.2L358.1,158.4L358.9,162.6L359.3,158.4" fill="none" stroke="#B79F00" stroke-width="0.7" stroke-opacity="0.6" stroke-linejoin="round"/>
<path d="M269.3,165.2L270.1,165.2L270.9,165.2L271.7,165.1L272.5,164.7L273.3,164.1L274.1,162.9L274.9,161.2L275.8,159.0L276.6,156.2L277.4,152.9L278.2,149.3L279.0,145.4L279.8,141.4L280.6,137.5L281.4,133.7L282.2,130.3L283.0,127.1L283.8,124.4L284.6,122.2L285.4,120.5L286.2,119.3L287.1,118.6L287.9,118.1L288.7,119.4L289.5,120.4L290.3,123.1L291.1,125.7L291.9,126.5L292.7,128.8L293.5,131.8L294.3,137.7L295.1,136.2L295.9,140.6L296.7,142.9L297.5,143.6L298.4,148.7L299.2,149.1L300.0,150.6L300.8,147.6L301.6,151.5L302.4,157.5L303.2,155.1L304.0,152.0L304.8,154.3L305.6,157.0L306.4,157.2L307.2,155.3L308.0,160.9L308.8,158.3L309.7,159.6L310.5,163.8L311.3,157.4L312.1,162.0L312.9,157.4L313.7,152.6L314.5,162.7L315.3,158.4L316.1,160.6L316.9,164.0L317.7,161.8L318.5,160.9L319.3,162.5L320.1,156.4L320.9,159.5L321.8,161.6L322.6,158.2L323.4,162.4L324.2,158.9L325.0,159.9L325.8,161.7L326.6,159.5L327.4,158.1L328.2,159.1L329.0,164.7L329.8,164.4L330.6,160.8L331.4,161.3L332.2,163.8L333.1,159.0L333.9,159.6L334.7,158.0L335.5,160.0L336.3,156.9L337.1,162.1L337.9,161.5L338.7,159.2L339.5,159.8L340.3,164.0L341.1,162.4L341.9,159.4L342.7,160.4L343.5,162.3L344.4,161.3L345.2,161.0L346.0,161.1L346.8,159.7L347.6,159.2L348.4,162.4L349.2,155.6L350.0,160.0L350.8,161.0L351.6,156.6L352.4,160.6L353.2,163.2L354.0,163.6L354.8,162.0L355.6,162.1L356.5,164.5L357.3,161.6L358.1,162.6L358.9,157.9L359.3,159.7" fill="none" stroke="#7CAE00" stroke-width="0.7" stroke-opacity="0.6" stroke-linejoin="round"/>
<path d="M269.3,165.2L270.1,165.2L270.9,165.2L271.7,165.2L272.5,165.1L273.3,164.9L274.1,164.5L274.9,164.0L275.8,163.2L276.6,162.2L277.4,161.0L278.2,159.5L279.0,157.9L279.8,156.1L280.6,154.3L281.4,152.3L282.2,150.4L283.0,148.4L283.8,146.6L284.6,144.9L285.4,143.3L286.2,141.9L287.1,140.7L287.9,139.7L288.7,138.9L289.5,138.3L290.3,137.9L291.1,138.0L291.9,138.2L292.7,137.7L293.5,139.1L294.3,138.6L295.1,142.4L295.9,144.6L296.7,146.3L297.5,147.1L298.4,146.3L299.2,148.8L300.0,150.0L300.8,149.3L301.6,152.6L302.4,153.1L303.2,149.6L304.0,155.4L304.8,154.3L305.6,156.9L306.4,154.1L307.2,159.0L308.0,158.9L308.8,155.7L309.7,162.3L310.5,155.1L311.3,158.1L312.1,159.0L312.9,159.7L313.7,157.9L314.5,158.3L315.3,162.5L316.1,160.0L316.9,161.7L317.7,161.1L318.5,160.0L319.3,160.7L320.1,160.9L320.9,161.7L321.8,162.5L322.6,161.1L323.4,156.9L324.2,157.2L325.0,162.6L325.8,165.2L326.6,158.7L327.4,156.3L328.2,161.1L329.0,159.7L329.8,160.6L330.6,159.9L331.4,161.8L332.2,160.7L333.1,161.2L333.9,161.3L334.7,160.3L335.5,163.9L336.3,158.2L337.1,160.5L337.9,160.2L338.7,162.3L339.5,165.2L340.3,161.0L341.1,161.8L341.9,165.2L342.7,158.1L343.5,157.3L344.4,161.4L345.2,159.7L346.0,157.4L346.8,159.3L347.6,165.2L348.4,157.9L349.2,165.0L350.0,161.8L350.8,157.2L351.6,162.7L352.4,164.2L353.2,161.1L354.0,161.5L354.8,165.2L355.6,157.5L356.5,160.9L357.3,161.2L358.1,160.7L358.9,160.6L359.3,157.8" fill="none" stroke="#00BA38" stroke-width="0.7" stroke-opacity="0.6" stroke-linejoin="round"/>
<path d="M269.3,165.2L270.1,165.2L270.9,165.2L271.7,165.2L272.5,165.1L273.3,165.0L274.1,164.8L274.9,164.4L275.8,163.9L276.6,163.3L277.4,162.5L278.2,161.5L279.0,160.4L279.8,159.1L280.6,157.8L281.4,156.3L282.2,154.9L283.0,153.4L283.8,152.0L284.6,150.5L285.4,149.2L286.2,148.0L287.1,146.9L287.9,145.9L288.7,145.0L289.5,144.3L290.3,143.7L291.1,143.3L291.9,143.0L292.7,142.9L293.5,143.2L294.3,143.2L295.1,144.8L295.9,145.5L296.7,145.7L297.5,147.1L298.4,146.2L299.2,149.2L300.0,149.4L300.8,148.5L301.6,155.1L302.4,151.1L303.2,150.8L304.0,154.5L304.8,152.3L305.6,157.8L306.4,157.9L307.2,159.4L308.0,153.4L308.8,159.2L309.7,156.5L310.5,161.8L311.3,156.3L312.1,161.7L312.9,160.5L313.7,164.9L314.5,162.2L315.3,157.4L316.1,162.8L316.9,156.2L317.7,155.0L318.5,160.5L319.3,163.2L320.1,161.1L320.9,159.7L321.8,164.9L322.6,161.9L323.4,160.1L324.2,159.6L325.0,164.8L325.8,160.7L326.6,160.4L327.4,158.1L328.2,160.0L329.0,158.3L329.8,159.4L330.6,162.6L331.4,154.5L332.2,159.2L333.1,160.2L333.9,161.6L334.7,157.2L335.5,160.6L336.3,159.5L337.1,160.3L337.9,161.1L338.7,164.4L339.5,162.1L340.3,156.8L341.1,160.2L341.9,162.3L342.7,162.8L343.5,162.7L344.4,161.8L345.2,157.7L346.0,157.5L346.8,160.0L347.6,157.0L348.4,164.6L349.2,161.2L350.0,165.2L350.8,165.2L351.6,160.3L352.4,164.9L353.2,160.7L354.0,162.9L354.8,158.2L355.6,158.1L356.5,164.5L357.3,159.1L358.1,160.9L358.9,159.7L359.3,162.1" fill="none" stroke="#00C08B" stroke-width="0.7" stroke-opacity="0.6" stroke-linejoin="round"/>
<path d="M269.3,165.2L270.1,165.2L270.9,165.2L271.7,165.2L272.5,165.2L273.3,165.1L274.1,164.9L274.9,164.7L275.8,164.4L276.6,163.9L277.4,163.4L278.2,162.7L279.0,161.9L279.8,161.0L280.6,159.9L281.4,158.9L282.2,157.7L283.0,156.5L283.8,155.3L284.6,154.1L285.4,152.9L286.2,151.8L287.1,150.8L287.9,149.8L288.7,148.9L289.5,148.1L290.3,147.4L291.1,146.8L291.9,146.3L292.7,146.0L293.5,145.7L294.3,145.5L295.1,145.3L295.9,146.1L296.7,146.5L297.5,146.6L298.4,146.9L299.2,148.4L300.0,148.3L300.8,148.8L301.6,151.6L302.4,151.6L303.2,153.4L304.0,155.8L304.8,151.6L305.6,150.4L306.4,155.5L307.2,151.8L308.0,152.5L308.8,157.9L309.7,157.8L310.5,158.6L311.3,155.6L312.1,155.1L312.9,159.4L313.7,162.0L314.5,158.6L315.3,156.1L316.1,158.3L316.9,159.3L317.7,163.2L318.5,158.2L319.3,160.4L320.1,159.7L320.9,159.6L321.8,161.0L322.6,162.2L323.4,159.9L324.2,158.9L325.0,156.4L325.8,160.9L326.6,162.6L327.4,156.1L328.2,158.0L329.0,162.1L329.8,161.0L330.6,160.3L331.4,157.2L332.2,160.5L333.1,157.2L333.9,159.9L334.7,162.1L335.5,160.0L336.3,164.3L337.1,161.9L337.9,159.2L338.7,162.4L339.5,161.3L340.3,163.4L341.1,160.5L341.9,164.4L342.7,161.4L343.5,158.9L344.4,161.8L345.2,158.5L346.0,159.7L346.8,159.1L347.6,162.2L348.4,160.7L349.2,162.9L350.0,162.2L350.8,161.7L351.6,159.4L352.4,157.1L353.2,163.6L354.0,157.2L354.8,165.2L355.6,165.2L356.5,156.7L357.3,157.8L358.1,160.1L358.9,160.1L359.3,160.5" fill="none" stroke="#00BFC4" stroke-width="0.7" stroke-opacity="0.6" stroke-linejoin="round"/>
<path d="M269.3,165.2L270.1,165.2L270.9,165.2L271.7,165.2L272.5,165.2L273.3,165.1L274.1,165.0L274.9,164.8L275.8,164.6L276.6,164.2L277.4,163.8L278.2,163.3L279.0,162.6L279.8,161.9L280.6,161.0L281.4,160.1L282.2,159.1L283.0,158.1L283.8,157.1L284.6,156.0L285.4,154.9L286.2,153.9L287.1,152.9L287.9,151.9L288.7,151.0L289.5,150.2L290.3,149.4L291.1,148.8L291.9,148.2L292.7,147.7L293.5,147.3L294.3,147.0L295.1,146.8L295.9,146.7L296.7,146.6L297.5,147.1L298.4,147.2L299.2,146.9L300.0,149.8L300.8,148.3L301.6,149.9L302.4,151.2L303.2,151.0L304.0,153.8L304.8,155.4L305.6,157.1L306.4,153.7L307.2,158.4L308.0,157.0L308.8,158.0L309.7,154.6L310.5,163.0L311.3,158.3L312.1,157.8L312.9,157.6L313.7,157.2L314.5,156.7L315.3,159.2L316.1,160.1L316.9,158.8L317.7,158.7L318.5,159.0L319.3,158.9L320.1,155.9L320.9,156.8L321.8,162.5L322.6,161.9L323.4,155.5L324.2,161.1L325.0,165.0L325.8,160.7L326.6,159.5L327.4,157.8L328.2,159.6L329.0,159.2L329.8,160.0L330.6,158.1L331.4,164.1L332.2,160.5L333.1,159.9L333.9,160.2L334.7,158.0L335.5,163.4L336.3,157.8L337.1,158.8L337.9,163.2L338.7,161.1L339.5,160.8L340.3,165.2L341.1,160.7L341.9,162.0L342.7,162.0L343.5,165.0L344.4,160.1L345.2,157.7L346.0,157.8L346.8,158.0L347.6,159.8L348.4,158.7L349.2,161.6L350.0,161.9L350.8,161.1L351.6,160.6L352.4,161.9L353.2,161.0L354.0,158.8L354.8,163.6L355.6,159.4L356.5,160.9L357.3,159.8L358.1,160.3L358.9,160.0L359.3,161.5" fill="none" stroke="#00B4F0" stroke-width="0.7" stroke-opacity="0.6" stroke-linejoin="round"/>
<path d="M269.3,165.2L270.1,165.2L270.9,165.2L271.7,165.2L272.5,165.2L273.3,165.1L274.1,165.0L274.9,164.9L275.8,164.7L276.6,164.4L277.4,164.1L278.2,163.6L279.0,163.0L279.8,162.4L280.6,161.7L281.4,160.9L282.2,160.0L283.0,159.1L283.8,158.2L284.6,157.2L285.4,156.2L286.2,155.2L287.1,154.3L287.9,153.4L288.7,152.5L289.5,151.6L290.3,150.9L291.1,150.2L291.9,149.5L292.7,149.0L293.5,148.5L294.3,148.1L295.1,147.8L295.9,147.6L296.7,147.4L297.5,147.3L298.4,146.9L299.2,147.7L300.0,147.9L300.8,149.3L301.6,148.3L302.4,151.3L303.2,151.2L304.0,151.0L304.8,154.4L305.6,151.8L306.4,154.4L307.2,153.8L308.0,156.0L308.8,158.4L309.7,154.7L310.5,156.2L311.3,156.7L312.1,158.3L312.9,156.6L313.7,159.1L314.5,158.0L315.3,155.1L316.1,159.7L316.9,158.1L317.7,160.2L318.5,158.8L319.3,160.1L320.1,158.0L320.9,161.2L321.8,160.7L322.6,156.5L323.4,159.7L324.2,156.3L325.0,160.6L325.8,162.7L326.6,160.5L327.4,159.5L328.2,160.9L329.0,163.6L329.8,164.3L330.6,156.7L331.4,162.4L332.2,159.6L333.1,158.5L333.9,158.7L334.7,165.2L335.5,164.2L336.3,163.7L337.1,159.5L337.9,161.9L338.7,163.6L339.5,159.5L340.3,159.1L341.1,160.7L341.9,163.8L342.7,160.1L343.5,162.8L344.4,161.2L345.2,160.3L346.0,160.4L346.8,161.3L347.6,161.0L348.4,159.4L349.2,160.6L350.0,165.2L350.8,162.6L351.6,160.8L352.4,158.5L353.2,162.0L354.0,162.2L354.8,159.8L355.6,163.2L356.5,159.4L357.3,162.2L358.1,160.4L358.9,160.1L359.3,159.9" fill="none" stroke="#619CFF" stroke-width="0.7" stroke-opacity="0.6" stroke-linejoin="round"/>
<path d="M269.3,165.2L270.1,165.2L270.9,165.2L271.7,165.2L272.5,165.2L273.3,165.1L274.1,165.1L274.9,165.0L275.8,164.8L276.6,164.6L277.4,164.3L278.2,163.9L279.0,163.4L279.8,162.9L280.6,162.2L281.4,161.5L282.2,160.8L283.0,160.0L283.8,159.1L284.6,158.2L285.4,157.4L286.2,156.4L287.1,155.6L287.9,154.7L288.7,153.8L289.5,153.0L290.3,152.2L291.1,151.5L291.9,150.9L292.7,150.3L293.5,149.8L294.3,149.3L295.1,148.9L295.9,148.6L296.7,148.4L297.5,148.2L298.4,148.1L299.2,148.2L300.0,147.9L300.8,148.7L301.6,150.3L302.4,150.1L303.2,151.6L304.0,150.4L304.8,152.9L305.6,151.2L306.4,151.9L307.2,152.7L308.0,155.9L308.8,152.7L309.7,156.0L310.5,156.6L311.3,154.4L312.1,158.1L312.9,154.8L313.7,156.0L314.5,156.7L315.3,158.6L316.1,159.9L316.9,157.9L317.7,161.7L318.5,158.7L319.3,161.5L320.1,157.0L320.9,159.5L321.8,157.6L322.6,162.2L323.4,160.1L324.2,161.6L325.0,160.6L325.8,162.9L326.6,158.2L327.4,162.2L328.2,159.4L329.0,159.3L329.8,157.4L330.6,159.2L331.4,164.3L332.2,162.3L333.1,163.4L333.9,163.5L334.7,163.0L335.5,159.1L336.3,159.2L337.1,160.0L337.9,163.1L338.7,161.9L339.5,159.4L340.3,160.1L341.1,163.3L341.9,160.4L342.7,160.6L343.5,157.3L344.4,161.4L345.2,165.2L346.0,160.0L346.8,158.2L347.6,164.3L348.4,158.7L349.2,158.1L350.0,160.3L350.8,161.9L351.6,160.6L352.4,161.4L353.2,160.1L354.0,157.9L354.8,160.2L355.6,161.8L356.5,159.1L357.3,158.2L358.1,164.2L358.9,160.0L359.3,156.4" fill="none" stroke="#C77CFF" stroke-width="0.7" stroke-opacity="0.6" stroke-linejoin="round"/>
<path d="M269.3,165.2L270.1,165.2L270.9,165.2L271.7,165.2L272.5,165.2L273.3,165.1L274.1,165.1L274.9,165.0L275.8,164.8L276.6,164.6L277.4,164.4L278.2,164.0L279.0,163.6L279.8,163.1L280.6,162.5L281.4,161.9L282.2,161.2L283.0,160.4L283.8,159.7L284.6,158.8L285.4,158.0L286.2,157.1L287.1,156.3L287.9,155.4L288.7,154.6L289.5,153.8L290.3,153.0L291.1,152.3L291.9,151.7L292.7,151.0L293.5,150.5L294.3,150.0L295.1,149.6L295.9,149.2L296.7,149.0L297.5,148.7L298.4,148.6L299.2,148.5L300.0,148.5L300.8,148.6L301.6,149.3L302.4,150.3L303.2,149.7L304.0,148.2L304.8,152.3L305.6,153.5L306.4,152.6L307.2,154.9L308.0,153.0L308.8,155.3L309.7,156.4L310.5,157.0L311.3,156.2L312.1,153.5L312.9,161.5L313.7,153.3L314.5,157.0L315.3,154.9L316.1,156.4L316.9,157.3L317.7,160.8L318.5,161.0L319.3,157.5L320.1,158.2L320.9,154.9L321.8,165.2L322.6,161.2L323.4,165.2L324.2,155.6L325.0,161.7L325.8,163.5L326.6,158.8L327.4,158.7L328.2,163.2L329.0,162.0L329.8,160.9L330.6,157.1L331.4,162.3L332.2,160.7L333.1,158.4L333.9,160.3L334.7,161.5L335.5,160.4L336.3,157.7L337.1,160.7L337.9,158.4L338.7,162.9L339.5,161.4L340.3,162.1L341.1,158.4L341.9,163.2L342.7,164.5L343.5,159.7L344.4,158.2L345.2,156.0L346.0,164.4L346.8,163.6L347.6,157.9L348.4,159.3L349.2,161.8L350.0,160.1L350.8,158.2L351.6,159.4L352.4,164.8L353.2,160.8L354.0,160.3L354.8,158.2L355.6,158.0L356.5,160.5L357.3,159.5L358.1,161.6L358.9,162.7L359.3,160.2" fill="none" stroke="#F564E3" stroke-width="0.7" stroke-opacity="0.6" stroke-linejoin="round"/>
<path d="M269.3,165.2L270.1,165.2L270.9,165.2L271.7,165.2L272.5,165.2L273.3,165.2L274.1,165.1L274.9,165.0L275.8,164.9L276.6,164.7L277.4,164.5L278.2,164.1L279.0,163.8L279.8,163.3L280.6,162.8L281.4,162.2L282.2,161.6L283.0,160.9L283.8,160.1L284.6,159.4L285.4,158.6L286.2,157.8L287.1,156.9L287.9,156.1L288.7,155.3L289.5,154.5L290.3,153.8L291.1,153.1L291.9,152.4L292.7,151.8L293.5,151.2L294.3,150.7L295.1,150.3L295.9,149.9L296.7,149.6L297.5,149.3L298.4,149.1L299.2,149.0L300.0,148.9L300.8,148.9L301.6,148.5L302.4,150.1L303.2,150.2L304.0,148.3L304.8,147.9L305.6,154.4L306.4,154.2L307.2,152.4L308.0,151.7L308.8,159.0L309.7,157.1L310.5,160.7L311.3,154.1L312.1,155.1L312.9,157.4L313.7,159.9L314.5,157.8L315.3,158.5L316.1,157.7L316.9,161.0L317.7,156.2L318.5,161.4L319.3,160.4L320.1,160.0L320.9,157.5L321.8,159.8L322.6,155.9L323.4,157.1L324.2,161.2L325.0,150.0L325.8,162.6L326.6,163.2L327.4,156.4L328.2,159.0L329.0,156.5L329.8,160.7L330.6,161.6L331.4,162.2L332.2,156.7L333.1,159.0L333.9,164.2L334.7,162.7L335.5,162.4L336.3,163.6L337.1,158.2L337.9,161.0L338.7,159.2L339.5,160.3L340.3,164.5L341.1,162.0L341.9,163.1L342.7,158.6L343.5,159.8L344.4,162.1L345.2,157.5L346.0,155.1L346.8,162.9L347.6,165.0L348.4,160.2L349.2,159.7L350.0,164.9L350.8,163.6L351.6,162.8L352.4,159.3L353.2,160.1L354.0,163.8L354.8,163.0L355.6,163.4L356.5,160.7L357.3,156.0L358.1,157.4L358.9,158.8L359.3,163.4" fill="none" stroke="#FF64B0" stroke-width="0.7" stroke-opacity="0.6" stroke-linejoin="round"/>
<line x1="265.00" y1="18.50" x2="265.00" y2="172.53" stroke="#231f20" stroke-width="1.25"/>
<line x1="264.38" y1="171.90" x2="364.80" y2="171.90" stroke="#231f20" stroke-width="1.25"/>
<line x1="262.30" y1="165.20" x2="265.00" y2="165.20" stroke="#231f20" stroke-width="1.1"/>
<line x1="262.30" y1="128.03" x2="265.00" y2="128.03" stroke="#231f20" stroke-width="1.1"/>
<line x1="262.30" y1="90.86" x2="265.00" y2="90.86" stroke="#231f20" stroke-width="1.1"/>
<line x1="262.30" y1="53.69" x2="265.00" y2="53.69" stroke="#231f20" stroke-width="1.1"/>
<line x1="269.30" y1="171.90" x2="269.30" y2="174.90" stroke="#231f20" stroke-width="1.1"/>
<text x="269.30" y="185.40" font-size="8.2" text-anchor="middle" textLength="3.99" lengthAdjust="spacingAndGlyphs">0</text>
<line x1="293.51" y1="171.90" x2="293.51" y2="174.90" stroke="#231f20" stroke-width="1.1"/>
<text x="293.51" y="185.40" font-size="8.2" text-anchor="middle" textLength="7.98" lengthAdjust="spacingAndGlyphs">30</text>
<line x1="317.72" y1="171.90" x2="317.72" y2="174.90" stroke="#231f20" stroke-width="1.1"/>
<text x="317.72" y="185.40" font-size="8.2" text-anchor="middle" textLength="7.98" lengthAdjust="spacingAndGlyphs">60</text>
<line x1="341.93" y1="171.90" x2="341.93" y2="174.90" stroke="#231f20" stroke-width="1.1"/>
<text x="341.93" y="185.40" font-size="8.2" text-anchor="middle" textLength="7.98" lengthAdjust="spacingAndGlyphs">90</text>
<text x="315.25" y="13.80" font-size="9.95" text-anchor="middle" textLength="27.10" lengthAdjust="spacingAndGlyphs">N301D</text>
<path d="M383.0,112.4L383.8,55.6L384.6,34.4L385.4,66.8L386.2,107.9L387.0,134.1L387.9,148.3L388.7,150.5L389.5,156.0L390.3,159.0L391.1,160.0L391.9,155.6L392.7,158.8L393.5,164.1L394.3,160.7L395.1,155.7L395.9,158.7L396.7,160.6L397.5,157.9L398.3,159.2L399.2,158.9L400.0,159.6L400.8,159.4L401.6,158.1L402.4,158.2L403.2,158.0L404.0,158.4L404.8,159.7L405.6,161.5L406.4,160.6L407.2,157.5L408.0,158.6L408.8,161.4L409.6,158.5L410.5,153.1L411.3,155.4L412.1,158.4L412.9,157.8L413.7,162.9L414.5,156.4L415.3,156.0L416.1,161.6L416.9,161.6L417.7,160.3L418.5,157.9L419.3,161.8L420.1,156.3L420.9,158.6L421.8,159.8L422.6,158.4L423.4,160.4L424.2,156.7L425.0,159.0L425.8,157.1L426.6,154.9L427.4,159.0L428.2,158.2L429.0,163.7L429.8,156.9L430.6,157.5L431.4,157.4L432.2,159.7L433.0,159.7L433.9,164.1L434.7,158.4L435.5,160.1L436.3,158.2L437.1,158.2L437.9,158.0L438.7,160.9L439.5,156.8L440.3,157.5L441.1,159.6L441.9,161.4L442.7,159.7L443.5,162.0L444.3,158.3L445.2,159.7L446.0,154.8L446.8,156.4L447.6,160.0L448.4,159.7L449.2,159.4L450.0,160.5L450.8,156.6L451.6,159.5L452.4,163.9L453.2,151.1L454.0,164.2L454.8,158.8L455.6,157.2L456.5,159.6L457.3,162.4L458.1,159.4L458.9,156.6L459.7,158.8L460.5,162.5L461.3,161.2L462.1,158.6L462.9,158.7L463.7,154.1L464.5,160.3L465.3,165.2L466.1,159.2L466.9,155.6L467.7,156.7L468.6,155.5L469.4,160.2L470.2,160.4L470.9,155.2" fill="none" stroke="#F8766D" stroke-width="0.7" stroke-opacity="0.6" stroke-linejoin="round"/>
<path d="M381.4,165.2L382.2,164.3L383.0,154.7L383.8,131.2L384.6,100.6L385.4,73.3L386.2,56.5L387.0,52.0L387.9,65.1L388.7,86.3L389.5,110.3L390.3,124.0L391.1,130.9L391.9,143.0L392.7,149.1L393.5,153.4L394.3,153.7L395.1,158.6L395.9,156.4L396.7,157.0L397.5,160.4L398.3,159.1L399.2,159.8L400.0,160.5L400.8,158.2L401.6,156.9L402.4,159.5L403.2,158.4L404.0,163.6L404.8,162.8L405.6,161.7L406.4,157.1L407.2,159.5L408.0,157.6L408.8,164.0L409.6,156.9L410.5,159.6L411.3,157.9L412.1,158.7L412.9,159.1L413.7,160.3L414.5,160.9L415.3,162.5L416.1,153.6L416.9,155.0L417.7,152.9L418.5,160.4L419.3,158.8L420.1,161.1L420.9,157.4L421.8,157.6L422.6,156.5L423.4,157.2L424.2,162.3L425.0,158.9L425.8,153.4L426.6,159.2L427.4,157.1L428.2,159.3L429.0,156.7L429.8,157.8L430.6,158.3L431.4,157.0L432.2,159.5L433.0,157.6L433.9,158.3L434.7,157.2L435.5,158.7L436.3,163.1L437.1,159.2L437.9,160.1L438.7,160.7L439.5,157.2L440.3,162.9L441.1,158.4L441.9,157.6L442.7,157.4L443.5,156.6L444.3,140.8L445.2,160.3L446.0,155.9L446.8,158.2L447.6,157.9L448.4,158.7L449.2,158.5L450.0,156.3L450.8,157.8L451.6,154.4L452.4,156.1L453.2,157.1L454.0,158.0L454.8,158.4L455.6,156.5L456.5,161.3L457.3,159.9L458.1,155.8L458.9,158.8L459.7,159.2L460.5,155.4L461.3,156.2L462.1,158.0L462.9,156.9L463.7,157.8L464.5,158.5L465.3,156.4L466.1,156.4L466.9,158.5L467.7,158.2L468.6,161.3L469.4,159.8L470.2,160.7L470.9,156.2" fill="none" stroke="#DE8C00" stroke-width="0.7" stroke-opacity="0.6" stroke-linejoin="round"/>
<path d="M381.4,165.2L382.2,165.1L383.0,163.3L383.8,157.6L384.6,147.0L385.4,132.6L386.2,116.8L387.0,101.9L387.9,89.7L388.7,81.3L389.5,77.0L390.3,77.0L391.1,82.4L391.9,90.2L392.7,101.7L393.5,108.3L394.3,117.9L395.1,125.4L395.9,129.5L396.7,134.3L397.5,144.1L398.3,144.3L399.2,144.6L400.0,147.1L400.8,152.6L401.6,155.0L402.4,150.1L403.2,156.1L404.0,158.2L404.8,155.1L405.6,159.4L406.4,162.2L407.2,158.1L408.0,159.8L408.8,159.8L409.6,158.8L410.5,157.1L411.3,155.3L412.1,157.7L412.9,161.3L413.7,157.9L414.5,160.1L415.3,154.3L416.1,161.1L416.9,160.6L417.7,161.7L418.5,155.7L419.3,158.0L420.1,158.7L420.9,162.5L421.8,160.7L422.6,161.2L423.4,161.0L424.2,158.6L425.0,159.3L425.8,155.2L426.6,161.0L427.4,159.9L428.2,159.6L429.0,156.9L429.8,158.8L430.6,160.2L431.4,157.1L432.2,157.3L433.0,162.4L433.9,156.0L434.7,157.6L435.5,158.5L436.3,157.7L437.1,152.2L437.9,157.5L438.7,159.1L439.5,159.4L440.3,160.3L441.1,154.8L441.9,153.0L442.7,156.4L443.5,157.2L444.3,154.7L445.2,160.0L446.0,158.1L446.8,156.9L447.6,158.2L448.4,156.8L449.2,161.1L450.0,163.0L450.8,158.3L451.6,159.8L452.4,155.5L453.2,157.0L454.0,161.8L454.8,157.3L455.6,160.1L456.5,164.7L457.3,153.8L458.1,156.5L458.9,159.7L459.7,159.1L460.5,154.8L461.3,157.3L462.1,152.4L462.9,158.2L463.7,161.0L464.5,158.7L465.3,155.8L466.1,157.1L466.9,159.5L467.7,160.5L468.6,157.7L469.4,156.2L470.2,154.2L470.9,161.8" fill="none" stroke="#B79F00" stroke-width="0.7" stroke-opacity="0.6" stroke-linejoin="round"/>
<path d="M381.4,165.2L382.2,165.2L383.0,165.1L383.8,164.8L384.6,163.9L385.4,162.2L386.2,159.5L387.0,155.8L387.9,151.1L388.7,145.6L389.5,139.7L390.3,133.6L391.1,127.7L391.9,122.2L392.7,117.3L393.5,113.3L394.3,110.1L395.1,107.8L395.9,106.5L396.7,106.2L397.5,107.2L398.3,108.9L399.2,113.6L400.0,115.8L400.8,115.6L401.6,119.6L402.4,123.8L403.2,131.3L404.0,134.0L404.8,134.7L405.6,141.9L406.4,140.8L407.2,142.7L408.0,144.3L408.8,145.4L409.6,149.2L410.5,148.1L411.3,151.6L412.1,153.3L412.9,152.0L413.7,148.6L414.5,159.3L415.3,152.0L416.1,155.7L416.9,158.5L417.7,157.9L418.5,159.2L419.3,157.6L420.1,156.8L420.9,159.6L421.8,157.0L422.6,161.6L423.4,163.4L424.2,158.4L425.0,160.2L425.8,161.8L426.6,157.4L427.4,155.6L428.2,157.2L429.0,161.0L429.8,155.6L430.6,156.7L431.4,162.9L432.2,159.6L433.0,160.6L433.9,163.2L434.7,159.6L435.5,159.8L436.3,164.3L437.1,165.2L437.9,163.1L438.7,162.3L439.5,163.3L440.3,161.8L441.1,158.1L441.9,160.3L442.7,162.9L443.5,164.3L444.3,162.5L445.2,162.6L446.0,161.5L446.8,158.9L447.6,164.2L448.4,160.5L449.2,158.4L450.0,160.1L450.8,160.5L451.6,162.9L452.4,162.1L453.2,156.9L454.0,160.4L454.8,159.9L455.6,161.4L456.5,164.9L457.3,160.7L458.1,160.5L458.9,162.0L459.7,157.7L460.5,159.0L461.3,164.0L462.1,161.3L462.9,163.2L463.7,161.2L464.5,165.2L465.3,160.3L466.1,160.4L466.9,163.0L467.7,157.3L468.6,159.6L469.4,160.7L470.2,148.6L470.9,161.2" fill="none" stroke="#7CAE00" stroke-width="0.7" stroke-opacity="0.6" stroke-linejoin="round"/>
<path d="M381.4,165.2L382.2,165.2L383.0,165.2L383.8,165.1L384.6,164.9L385.4,164.4L386.2,163.6L387.0,162.4L387.9,160.8L388.7,158.8L389.5,156.4L390.3,153.8L391.1,150.9L391.9,147.9L392.7,144.9L393.5,142.0L394.3,139.3L395.1,136.8L395.9,134.6L396.7,132.7L397.5,131.2L398.3,130.0L399.2,129.3L400.0,128.8L400.8,129.0L401.6,129.2L402.4,131.3L403.2,132.1L404.0,133.8L404.8,136.0L405.6,140.5L406.4,140.8L407.2,141.6L408.0,138.0L408.8,144.6L409.6,144.5L410.5,146.3L411.3,146.7L412.1,154.3L412.9,155.9L413.7,152.9L414.5,153.9L415.3,155.2L416.1,155.2L416.9,153.7L417.7,150.9L418.5,160.8L419.3,160.1L420.1,156.6L420.9,161.7L421.8,158.7L422.6,159.8L423.4,161.5L424.2,160.1L425.0,160.8L425.8,160.1L426.6,155.8L427.4,161.6L428.2,159.0L429.0,160.9L429.8,163.1L430.6,158.9L431.4,160.1L432.2,162.2L433.0,158.9L433.9,163.8L434.7,160.8L435.5,160.4L436.3,165.1L437.1,156.6L437.9,161.6L438.7,161.6L439.5,158.8L440.3,158.7L441.1,160.0L441.9,159.9L442.7,161.8L443.5,164.4L444.3,164.2L445.2,161.3L446.0,157.8L446.8,163.2L447.6,158.8L448.4,163.2L449.2,160.7L450.0,157.7L450.8,161.8L451.6,165.2L452.4,157.3L453.2,163.1L454.0,156.6L454.8,157.5L455.6,156.8L456.5,160.5L457.3,156.9L458.1,161.5L458.9,158.0L459.7,161.4L460.5,159.4L461.3,158.7L462.1,161.8L462.9,163.9L463.7,159.9L464.5,160.3L465.3,160.5L466.1,158.9L466.9,162.3L467.7,165.0L468.6,164.0L469.4,162.1L470.2,164.4L470.9,161.2" fill="none" stroke="#00BA38" stroke-width="0.7" stroke-opacity="0.6" stroke-linejoin="round"/>
<path d="M381.4,165.2L382.2,165.2L383.0,165.2L383.8,165.2L384.6,165.1L385.4,164.9L386.2,164.5L387.0,164.0L387.9,163.2L388.7,162.2L389.5,161.0L390.3,159.5L391.1,157.9L391.9,156.2L392.7,154.4L393.5,152.5L394.3,150.6L395.1,148.8L395.9,147.1L396.7,145.4L397.5,144.0L398.3,142.7L399.2,141.6L400.0,140.7L400.8,140.0L401.6,139.6L402.4,139.3L403.2,138.8L404.0,139.1L404.8,140.6L405.6,140.6L406.4,143.8L407.2,144.0L408.0,141.0L408.8,143.8L409.6,144.3L410.5,150.3L411.3,150.4L412.1,151.6L412.9,149.9L413.7,152.2L414.5,153.6L415.3,155.5L416.1,156.8L416.9,153.5L417.7,158.5L418.5,157.7L419.3,154.7L420.1,155.7L420.9,157.4L421.8,155.6L422.6,161.6L423.4,157.1L424.2,158.0L425.0,155.6L425.8,159.4L426.6,162.1L427.4,158.9L428.2,163.0L429.0,161.2L429.8,162.2L430.6,157.7L431.4,158.5L432.2,162.6L433.0,160.0L433.9,161.1L434.7,162.9L435.5,158.5L436.3,160.4L437.1,157.0L437.9,160.0L438.7,161.0L439.5,161.6L440.3,163.2L441.1,162.4L441.9,162.2L442.7,160.4L443.5,159.4L444.3,159.5L445.2,162.7L446.0,159.9L446.8,159.3L447.6,154.8L448.4,159.1L449.2,163.2L450.0,162.3L450.8,162.5L451.6,158.3L452.4,162.2L453.2,157.7L454.0,163.1L454.8,160.5L455.6,143.5L456.5,160.3L457.3,157.6L458.1,160.6L458.9,159.4L459.7,159.1L460.5,157.2L461.3,162.5L462.1,164.0L462.9,160.1L463.7,161.5L464.5,161.1L465.3,160.3L466.1,160.6L466.9,162.7L467.7,160.3L468.6,159.7L469.4,159.9L470.2,165.0L470.9,160.2" fill="none" stroke="#00C08B" stroke-width="0.7" stroke-opacity="0.6" stroke-linejoin="round"/>
<path d="M381.4,165.2L382.2,165.2L383.0,165.2L383.8,165.2L384.6,165.1L385.4,165.0L386.2,164.8L387.0,164.5L387.9,164.1L388.7,163.5L389.5,162.7L390.3,161.8L391.1,160.8L391.9,159.6L392.7,158.3L393.5,157.0L394.3,155.6L395.1,154.2L395.9,152.8L396.7,151.5L397.5,150.2L398.3,149.0L399.2,147.9L400.0,146.9L400.8,146.0L401.6,145.3L402.4,144.7L403.2,144.2L404.0,143.9L404.8,143.7L405.6,143.9L406.4,143.2L407.2,144.7L408.0,145.7L408.8,146.7L409.6,145.8L410.5,146.9L411.3,147.6L412.1,151.3L412.9,149.0L413.7,153.0L414.5,153.0L415.3,153.5L416.1,157.0L416.9,154.2L417.7,155.0L418.5,157.6L419.3,155.2L420.1,155.6L420.9,157.5L421.8,154.3L422.6,158.8L423.4,160.1L424.2,161.5L425.0,157.1L425.8,159.8L426.6,160.2L427.4,156.8L428.2,162.1L429.0,160.3L429.8,161.2L430.6,163.1L431.4,162.4L432.2,160.5L433.0,160.4L433.9,160.5L434.7,162.0L435.5,163.7L436.3,162.8L437.1,158.4L437.9,164.3L438.7,164.5L439.5,159.9L440.3,160.2L441.1,162.2L441.9,160.4L442.7,164.5L443.5,149.9L444.3,160.9L445.2,162.7L446.0,162.5L446.8,160.1L447.6,159.1L448.4,160.9L449.2,156.0L450.0,163.2L450.8,161.0L451.6,161.3L452.4,161.3L453.2,160.4L454.0,162.5L454.8,158.8L455.6,161.6L456.5,160.3L457.3,161.3L458.1,161.3L458.9,158.5L459.7,164.3L460.5,160.7L461.3,165.2L462.1,160.6L462.9,162.8L463.7,160.1L464.5,160.6L465.3,158.2L466.1,159.6L466.9,159.1L467.7,158.2L468.6,162.1L469.4,158.1L470.2,159.6L470.9,156.9" fill="none" stroke="#00BFC4" stroke-width="0.7" stroke-opacity="0.6" stroke-linejoin="round"/>
<path d="M381.4,165.2L382.2,165.2L383.0,165.2L383.8,165.2L384.6,165.2L385.4,165.1L386.2,165.0L387.0,164.8L387.9,164.5L388.7,164.1L389.5,163.6L390.3,163.0L391.1,162.2L391.9,161.4L392.7,160.5L393.5,159.5L394.3,158.4L395.1,157.3L395.9,156.1L396.7,155.0L397.5,153.9L398.3,152.8L399.2,151.7L400.0,150.7L400.8,149.8L401.6,149.0L402.4,148.3L403.2,147.6L404.0,147.1L404.8,146.6L405.6,146.3L406.4,146.1L407.2,145.9L408.0,145.4L408.8,146.2L409.6,146.8L410.5,147.2L411.3,148.6L412.1,147.2L412.9,150.0L413.7,150.9L414.5,149.0L415.3,155.0L416.1,150.2L416.9,154.4L417.7,153.4L418.5,153.8L419.3,155.4L420.1,154.5L420.9,159.0L421.8,160.5L422.6,158.2L423.4,160.4L424.2,160.8L425.0,160.7L425.8,157.4L426.6,155.3L427.4,161.2L428.2,158.6L429.0,158.4L429.8,157.8L430.6,161.2L431.4,160.3L432.2,160.4L433.0,158.5L433.9,160.8L434.7,161.9L435.5,157.8L436.3,159.6L437.1,155.5L437.9,158.8L438.7,161.9L439.5,156.8L440.3,159.9L441.1,162.4L441.9,147.6L442.7,160.6L443.5,162.3L444.3,159.9L445.2,158.6L446.0,160.8L446.8,159.8L447.6,152.5L448.4,159.3L449.2,164.2L450.0,161.0L450.8,160.0L451.6,162.3L452.4,156.5L453.2,159.6L454.0,161.2L454.8,156.2L455.6,165.2L456.5,159.4L457.3,161.9L458.1,159.1L458.9,163.3L459.7,158.6L460.5,162.6L461.3,163.0L462.1,156.2L462.9,162.0L463.7,155.5L464.5,159.3L465.3,157.8L466.1,160.4L466.9,157.9L467.7,161.7L468.6,157.4L469.4,162.5L470.2,163.2L470.9,162.1" fill="none" stroke="#00B4F0" stroke-width="0.7" stroke-opacity="0.6" stroke-linejoin="round"/>
<path d="M381.4,165.2L382.2,165.2L383.0,165.2L383.8,165.2L384.6,165.2L385.4,165.1L386.2,165.0L387.0,164.9L387.9,164.7L388.7,164.4L389.5,164.0L390.3,163.5L391.1,162.9L391.9,162.3L392.7,161.5L393.5,160.7L394.3,159.8L395.1,158.9L395.9,157.9L396.7,156.9L397.5,155.9L398.3,154.9L399.2,154.0L400.0,153.1L400.8,152.2L401.6,151.4L402.4,150.6L403.2,149.9L404.0,149.3L404.8,148.8L405.6,148.3L406.4,148.0L407.2,147.7L408.0,147.5L408.8,147.4L409.6,147.3L410.5,148.6L411.3,148.1L412.1,147.3L412.9,151.0L413.7,150.9L414.5,148.7L415.3,149.7L416.1,153.3L416.9,152.9L417.7,154.6L418.5,153.5L419.3,154.6L420.1,153.8L420.9,155.8L421.8,155.8L422.6,154.2L423.4,156.2L424.2,160.5L425.0,160.0L425.8,159.3L426.6,155.0L427.4,160.8L428.2,159.0L429.0,165.1L429.8,161.1L430.6,158.7L431.4,156.8L432.2,157.3L433.0,161.5L433.9,155.3L434.7,160.4L435.5,157.6L436.3,161.1L437.1,156.8L437.9,158.8L438.7,160.6L439.5,159.2L440.3,163.3L441.1,159.4L441.9,162.4L442.7,161.0L443.5,157.2L444.3,160.6L445.2,162.4L446.0,163.2L446.8,160.1L447.6,163.5L448.4,162.6L449.2,159.7L450.0,161.1L450.8,159.5L451.6,159.6L452.4,158.0L453.2,161.2L454.0,161.9L454.8,158.0L455.6,157.0L456.5,159.2L457.3,158.3L458.1,158.0L458.9,158.5L459.7,158.8L460.5,158.9L461.3,161.6L462.1,161.8L462.9,159.1L463.7,156.3L464.5,158.3L465.3,160.4L466.1,163.2L466.9,159.0L467.7,162.5L468.6,157.9L469.4,163.1L470.2,158.6L470.9,158.5" fill="none" stroke="#619CFF" stroke-width="0.7" stroke-opacity="0.6" stroke-linejoin="round"/>
<path d="M381.4,165.2L382.2,165.2L383.0,165.2L383.8,165.2L384.6,165.2L385.4,165.1L386.2,165.1L387.0,164.9L387.9,164.8L388.7,164.5L389.5,164.2L390.3,163.8L391.1,163.3L391.9,162.7L392.7,162.1L393.5,161.4L394.3,160.6L395.1,159.8L395.9,158.9L396.7,158.0L397.5,157.1L398.3,156.2L399.2,155.3L400.0,154.4L400.8,153.6L401.6,152.7L402.4,152.0L403.2,151.3L404.0,150.6L404.8,150.1L405.6,149.6L406.4,149.1L407.2,148.8L408.0,148.5L408.8,148.3L409.6,148.2L410.5,148.1L411.3,148.4L412.1,148.8L412.9,149.6L413.7,149.0L414.5,151.2L415.3,152.0L416.1,152.6L416.9,151.9L417.7,154.4L418.5,152.6L419.3,154.4L420.1,156.4L420.9,156.9L421.8,156.8L422.6,158.0L423.4,155.3L424.2,150.6L425.0,157.2L425.8,158.8L426.6,153.5L427.4,156.3L428.2,159.6L429.0,160.5L429.8,159.3L430.6,161.9L431.4,162.7L432.2,149.7L433.0,160.5L433.9,157.7L434.7,165.2L435.5,159.9L436.3,156.0L437.1,157.6L437.9,157.5L438.7,157.6L439.5,160.7L440.3,156.5L441.1,161.0L441.9,158.5L442.7,162.6L443.5,164.5L444.3,160.4L445.2,160.7L446.0,160.0L446.8,161.3L447.6,161.3L448.4,165.2L449.2,158.2L450.0,156.7L450.8,161.3L451.6,164.8L452.4,161.8L453.2,158.4L454.0,160.8L454.8,165.2L455.6,160.5L456.5,162.6L457.3,160.5L458.1,161.0L458.9,161.8L459.7,159.1L460.5,161.5L461.3,163.7L462.1,161.8L462.9,157.4L463.7,161.3L464.5,162.2L465.3,165.2L466.1,162.6L466.9,162.1L467.7,159.6L468.6,163.8L469.4,159.9L470.2,158.3L470.9,163.0" fill="none" stroke="#C77CFF" stroke-width="0.7" stroke-opacity="0.6" stroke-linejoin="round"/>
<path d="M381.4,165.2L382.2,165.2L383.0,165.2L383.8,165.2L384.6,165.2L385.4,165.1L386.2,165.1L387.0,165.0L387.9,164.8L388.7,164.6L389.5,164.3L390.3,164.0L391.1,163.6L391.9,163.1L392.7,162.5L393.5,161.8L394.3,161.1L395.1,160.4L395.9,159.6L396.7,158.8L397.5,157.9L398.3,157.1L399.2,156.2L400.0,155.4L400.8,154.6L401.6,153.8L402.4,153.1L403.2,152.4L404.0,151.7L404.8,151.1L405.6,150.6L406.4,150.2L407.2,149.8L408.0,149.5L408.8,149.2L409.6,149.0L410.5,148.9L411.3,149.0L412.1,149.1L412.9,149.3L413.7,149.5L414.5,150.4L415.3,150.7L416.1,150.8L416.9,153.2L417.7,153.7L418.5,154.4L419.3,153.9L420.1,152.1L420.9,152.8L421.8,149.3L422.6,152.7L423.4,158.9L424.2,158.1L425.0,160.3L425.8,161.4L426.6,161.0L427.4,158.8L428.2,158.6L429.0,161.7L429.8,160.0L430.6,156.1L431.4,163.2L432.2,159.4L433.0,163.1L433.9,162.1L434.7,158.1L435.5,157.4L436.3,160.9L437.1,157.9L437.9,164.3L438.7,159.0L439.5,165.2L440.3,160.5L441.1,159.4L441.9,160.7L442.7,158.6L443.5,161.6L444.3,159.0L445.2,159.8L446.0,160.2L446.8,164.6L447.6,158.1L448.4,161.8L449.2,157.6L450.0,162.5L450.8,161.1L451.6,160.2L452.4,160.2L453.2,161.8L454.0,164.5L454.8,159.7L455.6,161.8L456.5,157.5L457.3,159.4L458.1,163.4L458.9,158.5L459.7,157.6L460.5,158.3L461.3,161.7L462.1,164.9L462.9,160.0L463.7,159.5L464.5,161.2L465.3,163.0L466.1,160.5L466.9,163.3L467.7,157.4L468.6,161.8L469.4,163.7L470.2,159.9L470.9,161.4" fill="none" stroke="#F564E3" stroke-width="0.7" stroke-opacity="0.6" stroke-linejoin="round"/>
<path d="M381.4,165.2L382.2,165.2L383.0,165.2L383.8,165.2L384.6,165.2L385.4,165.2L386.2,165.1L387.0,165.0L387.9,164.9L388.7,164.7L389.5,164.4L390.3,164.1L391.1,163.7L391.9,163.3L392.7,162.8L393.5,162.2L394.3,161.5L395.1,160.8L395.9,160.1L396.7,159.3L397.5,158.5L398.3,157.7L399.2,156.9L400.0,156.1L400.8,155.3L401.6,154.5L402.4,153.8L403.2,153.1L404.0,152.5L404.8,151.9L405.6,151.4L406.4,150.9L407.2,150.5L408.0,150.1L408.8,149.8L409.6,149.6L410.5,149.4L411.3,149.3L412.1,149.1L412.9,149.0L413.7,150.0L414.5,150.1L415.3,151.5L416.1,151.1L416.9,151.5L417.7,151.0L418.5,152.9L419.3,153.5L420.1,153.7L420.9,156.1L421.8,156.0L422.6,157.2L423.4,154.9L424.2,156.5L425.0,161.0L425.8,158.2L426.6,157.2L427.4,158.2L428.2,160.9L429.0,161.2L429.8,160.4L430.6,160.2L431.4,158.9L432.2,160.7L433.0,162.6L433.9,160.0L434.7,158.4L435.5,161.0L436.3,156.3L437.1,157.2L437.9,162.5L438.7,159.3L439.5,161.2L440.3,162.7L441.1,160.8L441.9,161.5L442.7,164.9L443.5,159.0L444.3,160.2L445.2,161.3L446.0,160.5L446.8,159.1L447.6,160.6L448.4,161.6L449.2,160.0L450.0,164.5L450.8,158.5L451.6,161.6L452.4,159.4L453.2,162.0L454.0,161.5L454.8,159.8L455.6,160.0L456.5,157.8L457.3,160.3L458.1,156.0L458.9,157.3L459.7,161.2L460.5,158.0L461.3,157.9L462.1,161.8L462.9,161.7L463.7,163.8L464.5,160.2L465.3,164.3L466.1,157.3L466.9,159.2L467.7,159.5L468.6,161.1L469.4,160.7L470.2,161.7L470.9,165.2" fill="none" stroke="#FF64B0" stroke-width="0.7" stroke-opacity="0.6" stroke-linejoin="round"/>
<line x1="377.10" y1="18.50" x2="377.10" y2="172.53" stroke="#231f20" stroke-width="1.25"/>
<line x1="376.47" y1="171.90" x2="476.90" y2="171.90" stroke="#231f20" stroke-width="1.25"/>
<line x1="374.40" y1="165.20" x2="377.10" y2="165.20" stroke="#231f20" stroke-width="1.1"/>
<line x1="374.40" y1="128.03" x2="377.10" y2="128.03" stroke="#231f20" stroke-width="1.1"/>
<line x1="374.40" y1="90.86" x2="377.10" y2="90.86" stroke="#231f20" stroke-width="1.1"/>
<line x1="374.40" y1="53.69" x2="377.10" y2="53.69" stroke="#231f20" stroke-width="1.1"/>
<line x1="381.40" y1="171.90" x2="381.40" y2="174.90" stroke="#231f20" stroke-width="1.1"/>
<text x="381.40" y="185.40" font-size="8.2" text-anchor="middle" textLength="3.99" lengthAdjust="spacingAndGlyphs">0</text>
<line x1="405.61" y1="171.90" x2="405.61" y2="174.90" stroke="#231f20" stroke-width="1.1"/>
<text x="405.61" y="185.40" font-size="8.2" text-anchor="middle" textLength="7.98" lengthAdjust="spacingAndGlyphs">30</text>
<line x1="429.82" y1="171.90" x2="429.82" y2="174.90" stroke="#231f20" stroke-width="1.1"/>
<text x="429.82" y="185.40" font-size="8.2" text-anchor="middle" textLength="7.98" lengthAdjust="spacingAndGlyphs">60</text>
<line x1="454.03" y1="171.90" x2="454.03" y2="174.90" stroke="#231f20" stroke-width="1.1"/>
<text x="454.03" y="185.40" font-size="8.2" text-anchor="middle" textLength="7.98" lengthAdjust="spacingAndGlyphs">90</text>
<text x="427.20" y="13.80" font-size="9.95" text-anchor="middle" textLength="25.20" lengthAdjust="spacingAndGlyphs">N301E</text>
<text x="34.50" y="168.05" font-size="8.2" text-anchor="end" textLength="3.99" lengthAdjust="spacingAndGlyphs">0</text>
<text x="34.50" y="130.88" font-size="8.2" text-anchor="end" textLength="11.97" lengthAdjust="spacingAndGlyphs">100</text>
<text x="34.50" y="93.71" font-size="8.2" text-anchor="end" textLength="11.97" lengthAdjust="spacingAndGlyphs">200</text>
<text x="34.50" y="56.54" font-size="8.2" text-anchor="end" textLength="11.97" lengthAdjust="spacingAndGlyphs">300</text>
<text x="7.00" y="16.90" font-size="11.0" textLength="6.60" lengthAdjust="spacingAndGlyphs">A</text>
<text x="259.25" y="198.40" font-size="9.6" text-anchor="middle" textLength="42.30" lengthAdjust="spacingAndGlyphs">Time (min)</text>
<text transform="translate(15.00,95.60) rotate(-90)" font-size="9.6" text-anchor="middle" textLength="58.60" lengthAdjust="spacingAndGlyphs">Thrombin (nM)</text>
<text x="480.10" y="38.50" font-size="7.1" textLength="30.90" lengthAdjust="spacingAndGlyphs">FVIIa (nM)</text>
<line x1="480.00" y1="47.70" x2="488.00" y2="47.70" stroke="#F8766D" stroke-width="1.0" stroke-opacity="0.45"/>
<text x="491.20" y="50.15" font-size="7.4" textLength="14.82" lengthAdjust="spacingAndGlyphs">1600</text>
<line x1="480.00" y1="57.42" x2="488.00" y2="57.42" stroke="#DE8C00" stroke-width="1.0" stroke-opacity="0.45"/>
<text x="491.20" y="59.87" font-size="7.4" textLength="11.11" lengthAdjust="spacingAndGlyphs">533</text>
<line x1="480.00" y1="67.14" x2="488.00" y2="67.14" stroke="#B79F00" stroke-width="1.0" stroke-opacity="0.45"/>
<text x="491.20" y="69.59" font-size="7.4" textLength="11.11" lengthAdjust="spacingAndGlyphs">178</text>
<line x1="480.00" y1="76.86" x2="488.00" y2="76.86" stroke="#7CAE00" stroke-width="1.0" stroke-opacity="0.45"/>
<text x="491.20" y="79.31" font-size="7.4" textLength="7.41" lengthAdjust="spacingAndGlyphs">59</text>
<line x1="480.00" y1="86.58" x2="488.00" y2="86.58" stroke="#00BA38" stroke-width="1.0" stroke-opacity="0.45"/>
<text x="491.20" y="89.03" font-size="7.4" textLength="7.41" lengthAdjust="spacingAndGlyphs">20</text>
<line x1="480.00" y1="96.30" x2="488.00" y2="96.30" stroke="#00C08B" stroke-width="1.0" stroke-opacity="0.45"/>
<text x="491.20" y="98.75" font-size="7.4" textLength="9.26" lengthAdjust="spacingAndGlyphs">6.6</text>
<line x1="480.00" y1="106.02" x2="488.00" y2="106.02" stroke="#00BFC4" stroke-width="1.0" stroke-opacity="0.45"/>
<text x="491.20" y="108.47" font-size="7.4" textLength="9.26" lengthAdjust="spacingAndGlyphs">2.2</text>
<line x1="480.00" y1="115.74" x2="488.00" y2="115.74" stroke="#00B4F0" stroke-width="1.0" stroke-opacity="0.45"/>
<text x="491.20" y="118.19" font-size="7.4" textLength="9.26" lengthAdjust="spacingAndGlyphs">0.7</text>
<line x1="480.00" y1="125.46" x2="488.00" y2="125.46" stroke="#619CFF" stroke-width="1.0" stroke-opacity="0.45"/>
<text x="491.20" y="127.91" font-size="7.4" textLength="9.26" lengthAdjust="spacingAndGlyphs">0.2</text>
<line x1="480.00" y1="135.18" x2="488.00" y2="135.18" stroke="#C77CFF" stroke-width="1.0" stroke-opacity="0.45"/>
<text x="491.20" y="137.63" font-size="7.4" textLength="12.96" lengthAdjust="spacingAndGlyphs">0.08</text>
<line x1="480.00" y1="144.90" x2="488.00" y2="144.90" stroke="#F564E3" stroke-width="1.0" stroke-opacity="0.45"/>
<text x="491.20" y="147.35" font-size="7.4" textLength="12.96" lengthAdjust="spacingAndGlyphs">0.03</text>
<line x1="480.00" y1="154.62" x2="488.00" y2="154.62" stroke="#FF64B0" stroke-width="1.0" stroke-opacity="0.45"/>
<text x="491.20" y="157.07" font-size="7.4" textLength="3.70" lengthAdjust="spacingAndGlyphs">0</text>
<path d="M45.3,363.7L52.1,363.3L58.5,362.9L67.1,362.6L75.1,362.6L82.7,362.6L90.4,362.6L97.8,362.2L105.5,360.4L113.1,354.3L120.7,334.2" fill="none" stroke="#F8766D" stroke-width="0.6" stroke-opacity="0.55" stroke-linejoin="round"/>
<circle cx="45.3" cy="363.7" r="0.8" fill="#F8766D" fill-opacity="0.8"/>
<circle cx="52.1" cy="363.3" r="0.8" fill="#F8766D" fill-opacity="0.8"/>
<circle cx="58.5" cy="362.9" r="0.8" fill="#F8766D" fill-opacity="0.8"/>
<circle cx="67.1" cy="362.6" r="0.8" fill="#F8766D" fill-opacity="0.8"/>
<circle cx="75.1" cy="362.6" r="0.8" fill="#F8766D" fill-opacity="0.8"/>
<circle cx="82.7" cy="362.6" r="0.8" fill="#F8766D" fill-opacity="0.8"/>
<circle cx="90.4" cy="362.6" r="0.8" fill="#F8766D" fill-opacity="0.8"/>
<circle cx="97.8" cy="362.2" r="0.8" fill="#F8766D" fill-opacity="0.8"/>
<circle cx="105.5" cy="360.4" r="0.8" fill="#F8766D" fill-opacity="0.8"/>
<circle cx="113.1" cy="354.3" r="0.8" fill="#F8766D" fill-opacity="0.8"/>
<circle cx="120.7" cy="334.2" r="0.8" fill="#F8766D" fill-opacity="0.8"/>
<path d="M45.3,362.9L52.1,362.6L58.5,362.2L67.1,359.4L75.1,362.6L82.7,356.8L90.4,348.2L97.8,328.5L105.5,297.6L113.1,272.5L120.7,248.4" fill="none" stroke="#7CAE00" stroke-width="0.6" stroke-opacity="0.55" stroke-linejoin="round"/>
<circle cx="45.3" cy="362.9" r="0.8" fill="#7CAE00" fill-opacity="0.8"/>
<circle cx="52.1" cy="362.6" r="0.8" fill="#7CAE00" fill-opacity="0.8"/>
<circle cx="58.5" cy="362.2" r="0.8" fill="#7CAE00" fill-opacity="0.8"/>
<circle cx="67.1" cy="359.4" r="0.8" fill="#7CAE00" fill-opacity="0.8"/>
<circle cx="75.1" cy="362.6" r="0.8" fill="#7CAE00" fill-opacity="0.8"/>
<circle cx="82.7" cy="356.8" r="0.8" fill="#7CAE00" fill-opacity="0.8"/>
<circle cx="90.4" cy="348.2" r="0.8" fill="#7CAE00" fill-opacity="0.8"/>
<circle cx="97.8" cy="328.5" r="0.8" fill="#7CAE00" fill-opacity="0.8"/>
<circle cx="105.5" cy="297.6" r="0.8" fill="#7CAE00" fill-opacity="0.8"/>
<circle cx="113.1" cy="272.5" r="0.8" fill="#7CAE00" fill-opacity="0.8"/>
<circle cx="120.7" cy="248.4" r="0.8" fill="#7CAE00" fill-opacity="0.8"/>
<path d="M45.3,363.7L52.1,362.9L58.5,362.2L67.1,361.1L75.1,361.9L82.7,357.6L90.4,352.2L97.8,336.4L105.5,308.4L113.1,277.5L120.7,248.4" fill="none" stroke="#00BFC4" stroke-width="0.6" stroke-opacity="0.55" stroke-linejoin="round"/>
<circle cx="45.3" cy="363.7" r="0.8" fill="#00BFC4" fill-opacity="0.8"/>
<circle cx="52.1" cy="362.9" r="0.8" fill="#00BFC4" fill-opacity="0.8"/>
<circle cx="58.5" cy="362.2" r="0.8" fill="#00BFC4" fill-opacity="0.8"/>
<circle cx="67.1" cy="361.1" r="0.8" fill="#00BFC4" fill-opacity="0.8"/>
<circle cx="75.1" cy="361.9" r="0.8" fill="#00BFC4" fill-opacity="0.8"/>
<circle cx="82.7" cy="357.6" r="0.8" fill="#00BFC4" fill-opacity="0.8"/>
<circle cx="90.4" cy="352.2" r="0.8" fill="#00BFC4" fill-opacity="0.8"/>
<circle cx="97.8" cy="336.4" r="0.8" fill="#00BFC4" fill-opacity="0.8"/>
<circle cx="105.5" cy="308.4" r="0.8" fill="#00BFC4" fill-opacity="0.8"/>
<circle cx="113.1" cy="277.5" r="0.8" fill="#00BFC4" fill-opacity="0.8"/>
<circle cx="120.7" cy="248.4" r="0.8" fill="#00BFC4" fill-opacity="0.8"/>
<path d="M45.3,364.0L52.1,363.3L58.5,362.6L67.1,361.1L75.1,359.7L82.7,354.3L90.4,342.8L97.8,319.9L105.5,291.1L113.1,267.4L120.7,248.8" fill="none" stroke="#C77CFF" stroke-width="0.6" stroke-opacity="0.55" stroke-linejoin="round"/>
<circle cx="45.3" cy="364.0" r="0.8" fill="#C77CFF" fill-opacity="0.8"/>
<circle cx="52.1" cy="363.3" r="0.8" fill="#C77CFF" fill-opacity="0.8"/>
<circle cx="58.5" cy="362.6" r="0.8" fill="#C77CFF" fill-opacity="0.8"/>
<circle cx="67.1" cy="361.1" r="0.8" fill="#C77CFF" fill-opacity="0.8"/>
<circle cx="75.1" cy="359.7" r="0.8" fill="#C77CFF" fill-opacity="0.8"/>
<circle cx="82.7" cy="354.3" r="0.8" fill="#C77CFF" fill-opacity="0.8"/>
<circle cx="90.4" cy="342.8" r="0.8" fill="#C77CFF" fill-opacity="0.8"/>
<circle cx="97.8" cy="319.9" r="0.8" fill="#C77CFF" fill-opacity="0.8"/>
<circle cx="105.5" cy="291.1" r="0.8" fill="#C77CFF" fill-opacity="0.8"/>
<circle cx="113.1" cy="267.4" r="0.8" fill="#C77CFF" fill-opacity="0.8"/>
<circle cx="120.7" cy="248.8" r="0.8" fill="#C77CFF" fill-opacity="0.8"/>
<line x1="40.90" y1="241.30" x2="40.90" y2="383.82" stroke="#231f20" stroke-width="1.25"/>
<line x1="40.27" y1="383.20" x2="123.90" y2="383.20" stroke="#231f20" stroke-width="1.25"/>
<line x1="38.20" y1="377.30" x2="40.90" y2="377.30" stroke="#231f20" stroke-width="1.1"/>
<line x1="38.20" y1="340.97" x2="40.90" y2="340.97" stroke="#231f20" stroke-width="1.1"/>
<line x1="38.20" y1="304.64" x2="40.90" y2="304.64" stroke="#231f20" stroke-width="1.1"/>
<line x1="38.20" y1="268.31" x2="40.90" y2="268.31" stroke="#231f20" stroke-width="1.1"/>
<line x1="53.65" y1="383.20" x2="53.65" y2="386.20" stroke="#231f20" stroke-width="1.1"/>
<text x="53.65" y="396.30" font-size="8.2" text-anchor="middle" textLength="9.97" lengthAdjust="spacingAndGlyphs">0.1</text>
<line x1="69.60" y1="383.20" x2="69.60" y2="386.20" stroke="#231f20" stroke-width="1.1"/>
<text x="69.60" y="396.30" font-size="8.2" text-anchor="middle" textLength="3.99" lengthAdjust="spacingAndGlyphs">1</text>
<line x1="85.55" y1="383.20" x2="85.55" y2="386.20" stroke="#231f20" stroke-width="1.1"/>
<text x="85.55" y="396.30" font-size="8.2" text-anchor="middle" textLength="7.98" lengthAdjust="spacingAndGlyphs">10</text>
<line x1="101.50" y1="383.20" x2="101.50" y2="386.20" stroke="#231f20" stroke-width="1.1"/>
<text x="101.50" y="396.30" font-size="8.2" text-anchor="middle" textLength="11.97" lengthAdjust="spacingAndGlyphs">100</text>
<path d="M140.2,377.3L147.0,377.3L153.3,377.3L162.0,377.3L169.9,377.3L177.5,377.3L185.2,377.3L192.7,377.3L200.3,376.2L207.9,364.4L215.6,344.3" fill="none" stroke="#F8766D" stroke-width="0.6" stroke-opacity="0.55" stroke-linejoin="round"/>
<circle cx="140.2" cy="377.3" r="0.8" fill="#F8766D" fill-opacity="0.8"/>
<circle cx="147.0" cy="377.3" r="0.8" fill="#F8766D" fill-opacity="0.8"/>
<circle cx="153.3" cy="377.3" r="0.8" fill="#F8766D" fill-opacity="0.8"/>
<circle cx="162.0" cy="377.3" r="0.8" fill="#F8766D" fill-opacity="0.8"/>
<circle cx="169.9" cy="377.3" r="0.8" fill="#F8766D" fill-opacity="0.8"/>
<circle cx="177.5" cy="377.3" r="0.8" fill="#F8766D" fill-opacity="0.8"/>
<circle cx="185.2" cy="377.3" r="0.8" fill="#F8766D" fill-opacity="0.8"/>
<circle cx="192.7" cy="377.3" r="0.8" fill="#F8766D" fill-opacity="0.8"/>
<circle cx="200.3" cy="376.2" r="0.8" fill="#F8766D" fill-opacity="0.8"/>
<circle cx="207.9" cy="364.4" r="0.8" fill="#F8766D" fill-opacity="0.8"/>
<circle cx="215.6" cy="344.3" r="0.8" fill="#F8766D" fill-opacity="0.8"/>
<path d="M140.2,377.3L147.0,377.3L153.3,377.3L162.0,377.3L169.9,377.3L177.5,372.6L185.2,363.3L192.7,341.4L200.3,308.0L207.9,280.0L215.6,250.9" fill="none" stroke="#7CAE00" stroke-width="0.6" stroke-opacity="0.55" stroke-linejoin="round"/>
<circle cx="140.2" cy="377.3" r="0.8" fill="#7CAE00" fill-opacity="0.8"/>
<circle cx="147.0" cy="377.3" r="0.8" fill="#7CAE00" fill-opacity="0.8"/>
<circle cx="153.3" cy="377.3" r="0.8" fill="#7CAE00" fill-opacity="0.8"/>
<circle cx="162.0" cy="377.3" r="0.8" fill="#7CAE00" fill-opacity="0.8"/>
<circle cx="169.9" cy="377.3" r="0.8" fill="#7CAE00" fill-opacity="0.8"/>
<circle cx="177.5" cy="372.6" r="0.8" fill="#7CAE00" fill-opacity="0.8"/>
<circle cx="185.2" cy="363.3" r="0.8" fill="#7CAE00" fill-opacity="0.8"/>
<circle cx="192.7" cy="341.4" r="0.8" fill="#7CAE00" fill-opacity="0.8"/>
<circle cx="200.3" cy="308.0" r="0.8" fill="#7CAE00" fill-opacity="0.8"/>
<circle cx="207.9" cy="280.0" r="0.8" fill="#7CAE00" fill-opacity="0.8"/>
<circle cx="215.6" cy="250.9" r="0.8" fill="#7CAE00" fill-opacity="0.8"/>
<path d="M140.2,377.3L147.0,377.3L153.3,377.3L162.0,377.3L169.9,377.3L177.5,375.5L185.2,366.2L192.7,348.6L200.3,318.8L207.9,289.7L215.6,262.4" fill="none" stroke="#00BFC4" stroke-width="0.6" stroke-opacity="0.55" stroke-linejoin="round"/>
<circle cx="140.2" cy="377.3" r="0.8" fill="#00BFC4" fill-opacity="0.8"/>
<circle cx="147.0" cy="377.3" r="0.8" fill="#00BFC4" fill-opacity="0.8"/>
<circle cx="153.3" cy="377.3" r="0.8" fill="#00BFC4" fill-opacity="0.8"/>
<circle cx="162.0" cy="377.3" r="0.8" fill="#00BFC4" fill-opacity="0.8"/>
<circle cx="169.9" cy="377.3" r="0.8" fill="#00BFC4" fill-opacity="0.8"/>
<circle cx="177.5" cy="375.5" r="0.8" fill="#00BFC4" fill-opacity="0.8"/>
<circle cx="185.2" cy="366.2" r="0.8" fill="#00BFC4" fill-opacity="0.8"/>
<circle cx="192.7" cy="348.6" r="0.8" fill="#00BFC4" fill-opacity="0.8"/>
<circle cx="200.3" cy="318.8" r="0.8" fill="#00BFC4" fill-opacity="0.8"/>
<circle cx="207.9" cy="289.7" r="0.8" fill="#00BFC4" fill-opacity="0.8"/>
<circle cx="215.6" cy="262.4" r="0.8" fill="#00BFC4" fill-opacity="0.8"/>
<path d="M140.2,377.3L147.0,377.3L153.3,377.3L162.0,377.3L169.9,377.3L177.5,369.0L185.2,354.3L192.7,324.5L200.3,294.7L207.9,275.0L215.6,252.7" fill="none" stroke="#C77CFF" stroke-width="0.6" stroke-opacity="0.55" stroke-linejoin="round"/>
<circle cx="140.2" cy="377.3" r="0.8" fill="#C77CFF" fill-opacity="0.8"/>
<circle cx="147.0" cy="377.3" r="0.8" fill="#C77CFF" fill-opacity="0.8"/>
<circle cx="153.3" cy="377.3" r="0.8" fill="#C77CFF" fill-opacity="0.8"/>
<circle cx="162.0" cy="377.3" r="0.8" fill="#C77CFF" fill-opacity="0.8"/>
<circle cx="169.9" cy="377.3" r="0.8" fill="#C77CFF" fill-opacity="0.8"/>
<circle cx="177.5" cy="369.0" r="0.8" fill="#C77CFF" fill-opacity="0.8"/>
<circle cx="185.2" cy="354.3" r="0.8" fill="#C77CFF" fill-opacity="0.8"/>
<circle cx="192.7" cy="324.5" r="0.8" fill="#C77CFF" fill-opacity="0.8"/>
<circle cx="200.3" cy="294.7" r="0.8" fill="#C77CFF" fill-opacity="0.8"/>
<circle cx="207.9" cy="275.0" r="0.8" fill="#C77CFF" fill-opacity="0.8"/>
<circle cx="215.6" cy="252.7" r="0.8" fill="#C77CFF" fill-opacity="0.8"/>
<line x1="135.80" y1="241.30" x2="135.80" y2="383.82" stroke="#231f20" stroke-width="1.25"/>
<line x1="135.18" y1="383.20" x2="218.80" y2="383.20" stroke="#231f20" stroke-width="1.25"/>
<line x1="133.10" y1="377.30" x2="135.80" y2="377.30" stroke="#231f20" stroke-width="1.1"/>
<line x1="133.10" y1="340.97" x2="135.80" y2="340.97" stroke="#231f20" stroke-width="1.1"/>
<line x1="133.10" y1="304.64" x2="135.80" y2="304.64" stroke="#231f20" stroke-width="1.1"/>
<line x1="133.10" y1="268.31" x2="135.80" y2="268.31" stroke="#231f20" stroke-width="1.1"/>
<line x1="148.50" y1="383.20" x2="148.50" y2="386.20" stroke="#231f20" stroke-width="1.1"/>
<text x="148.50" y="396.30" font-size="8.2" text-anchor="middle" textLength="9.97" lengthAdjust="spacingAndGlyphs">0.1</text>
<line x1="164.45" y1="383.20" x2="164.45" y2="386.20" stroke="#231f20" stroke-width="1.1"/>
<text x="164.45" y="396.30" font-size="8.2" text-anchor="middle" textLength="3.99" lengthAdjust="spacingAndGlyphs">1</text>
<line x1="180.40" y1="383.20" x2="180.40" y2="386.20" stroke="#231f20" stroke-width="1.1"/>
<text x="180.40" y="396.30" font-size="8.2" text-anchor="middle" textLength="7.98" lengthAdjust="spacingAndGlyphs">10</text>
<line x1="196.35" y1="383.20" x2="196.35" y2="386.20" stroke="#231f20" stroke-width="1.1"/>
<text x="196.35" y="396.30" font-size="8.2" text-anchor="middle" textLength="11.97" lengthAdjust="spacingAndGlyphs">100</text>
<text x="34.50" y="380.15" font-size="8.2" text-anchor="end" textLength="3.99" lengthAdjust="spacingAndGlyphs">0</text>
<text x="34.50" y="343.82" font-size="8.2" text-anchor="end" textLength="11.97" lengthAdjust="spacingAndGlyphs">100</text>
<text x="34.50" y="307.49" font-size="8.2" text-anchor="end" textLength="11.97" lengthAdjust="spacingAndGlyphs">200</text>
<text x="34.50" y="271.16" font-size="8.2" text-anchor="end" textLength="11.97" lengthAdjust="spacingAndGlyphs">300</text>
<text x="7.00" y="225.75" font-size="10.5" textLength="6.00" lengthAdjust="spacingAndGlyphs">B</text>
<text x="60.40" y="224.60" font-size="10.0" textLength="138.00" lengthAdjust="spacingAndGlyphs">Dose-response curves triggered by</text>
<text x="70.30" y="236.40" font-size="8.4" textLength="23.40" lengthAdjust="spacingAndGlyphs">TF &amp; PL</text>
<text x="173.30" y="236.40" font-size="8.4" textLength="7.60" lengthAdjust="spacingAndGlyphs">PL</text>
<text x="129.50" y="409.60" font-size="9.6" text-anchor="middle" textLength="122.80" lengthAdjust="spacingAndGlyphs">Factor FVIIa concentration (nM)</text>
<text transform="translate(15.20,312.10) rotate(-90)" font-size="9.6" text-anchor="middle" textLength="107.00" lengthAdjust="spacingAndGlyphs">Peak thrombin height (nM)</text>
<clipPath id="clc"><rect x="267.6" y="230" width="90" height="160"/></clipPath>
<g clip-path="url(#clc)">
<path d="M260.8,376.6L302.7,376.6L312.4,376.6L322.1,376.6L331.8,376.6L341.5,371.3" fill="none" stroke="#F8766D" stroke-width="0.6" stroke-opacity="0.55" stroke-linejoin="round"/>
<circle cx="302.7" cy="376.6" r="0.8" fill="#F8766D" fill-opacity="0.8"/>
<circle cx="312.4" cy="376.6" r="0.8" fill="#F8766D" fill-opacity="0.8"/>
<circle cx="322.1" cy="376.6" r="0.8" fill="#F8766D" fill-opacity="0.8"/>
<circle cx="331.8" cy="376.6" r="0.8" fill="#F8766D" fill-opacity="0.8"/>
<circle cx="341.5" cy="371.3" r="0.8" fill="#F8766D" fill-opacity="0.8"/>
<path d="M260.8,365.2L302.7,338.3L312.4,325.1L322.1,312.1L331.8,302.0L341.5,284.6" fill="none" stroke="#7CAE00" stroke-width="0.6" stroke-opacity="0.55" stroke-linejoin="round"/>
<circle cx="302.7" cy="338.3" r="0.8" fill="#7CAE00" fill-opacity="0.8"/>
<circle cx="312.4" cy="325.1" r="0.8" fill="#7CAE00" fill-opacity="0.8"/>
<circle cx="322.1" cy="312.1" r="0.8" fill="#7CAE00" fill-opacity="0.8"/>
<circle cx="331.8" cy="302.0" r="0.8" fill="#7CAE00" fill-opacity="0.8"/>
<circle cx="341.5" cy="284.6" r="0.8" fill="#7CAE00" fill-opacity="0.8"/>
<path d="M260.8,366.5L302.7,341.7L312.4,330.9L322.1,317.2L331.8,313.5L341.5,298.9" fill="none" stroke="#00BFC4" stroke-width="0.6" stroke-opacity="0.55" stroke-linejoin="round"/>
<circle cx="302.7" cy="341.7" r="0.8" fill="#00BFC4" fill-opacity="0.8"/>
<circle cx="312.4" cy="330.9" r="0.8" fill="#00BFC4" fill-opacity="0.8"/>
<circle cx="322.1" cy="317.2" r="0.8" fill="#00BFC4" fill-opacity="0.8"/>
<circle cx="331.8" cy="313.5" r="0.8" fill="#00BFC4" fill-opacity="0.8"/>
<circle cx="341.5" cy="298.9" r="0.8" fill="#00BFC4" fill-opacity="0.8"/>
<path d="M260.8,359.2L302.7,324.0L312.4,305.4L322.1,284.6L331.8,272.1L341.5,250.0" fill="none" stroke="#C77CFF" stroke-width="0.6" stroke-opacity="0.55" stroke-linejoin="round"/>
<circle cx="302.7" cy="324.0" r="0.8" fill="#C77CFF" fill-opacity="0.8"/>
<circle cx="312.4" cy="305.4" r="0.8" fill="#C77CFF" fill-opacity="0.8"/>
<circle cx="322.1" cy="284.6" r="0.8" fill="#C77CFF" fill-opacity="0.8"/>
<circle cx="331.8" cy="272.1" r="0.8" fill="#C77CFF" fill-opacity="0.8"/>
<circle cx="341.5" cy="250.0" r="0.8" fill="#C77CFF" fill-opacity="0.8"/>
</g>
<line x1="267.60" y1="241.00" x2="267.60" y2="383.82" stroke="#231f20" stroke-width="1.25"/>
<line x1="266.98" y1="383.20" x2="350.30" y2="383.20" stroke="#231f20" stroke-width="1.25"/>
<line x1="264.90" y1="377.30" x2="267.60" y2="377.30" stroke="#231f20" stroke-width="1.1"/>
<text x="261.60" y="380.15" font-size="8.2" text-anchor="end" textLength="3.99" lengthAdjust="spacingAndGlyphs">0</text>
<line x1="264.90" y1="343.70" x2="267.60" y2="343.70" stroke="#231f20" stroke-width="1.1"/>
<text x="261.60" y="346.55" font-size="8.2" text-anchor="end" textLength="7.98" lengthAdjust="spacingAndGlyphs">50</text>
<line x1="264.90" y1="310.10" x2="267.60" y2="310.10" stroke="#231f20" stroke-width="1.1"/>
<text x="261.60" y="312.95" font-size="8.2" text-anchor="end" textLength="11.97" lengthAdjust="spacingAndGlyphs">100</text>
<line x1="264.90" y1="276.50" x2="267.60" y2="276.50" stroke="#231f20" stroke-width="1.1"/>
<text x="261.60" y="279.35" font-size="8.2" text-anchor="end" textLength="11.97" lengthAdjust="spacingAndGlyphs">150</text>
<line x1="270.50" y1="383.20" x2="270.50" y2="386.20" stroke="#231f20" stroke-width="1.1"/>
<text x="270.50" y="396.30" font-size="8.2" text-anchor="middle" textLength="9.97" lengthAdjust="spacingAndGlyphs">0.1</text>
<line x1="302.70" y1="383.20" x2="302.70" y2="386.20" stroke="#231f20" stroke-width="1.1"/>
<text x="302.70" y="396.30" font-size="8.2" text-anchor="middle" textLength="9.97" lengthAdjust="spacingAndGlyphs">1.0</text>
<line x1="334.90" y1="383.20" x2="334.90" y2="386.20" stroke="#231f20" stroke-width="1.1"/>
<text x="334.90" y="396.30" font-size="8.2" text-anchor="middle" textLength="13.96" lengthAdjust="spacingAndGlyphs">10.0</text>
<clipPath id="clr"><rect x="379.6" y="230" width="90" height="160"/></clipPath>
<g clip-path="url(#clr)">
<path d="M373.5,378.8L383.0,372.7L396.1,369.0L408.9,363.0L421.5,339.7L433.6,304.6L446.2,281.7L458.8,251.5" fill="none" stroke="#F8766D" stroke-width="0.6" stroke-opacity="0.55" stroke-linejoin="round"/>
<circle cx="383.0" cy="372.7" r="0.8" fill="#F8766D" fill-opacity="0.8"/>
<circle cx="396.1" cy="369.0" r="0.8" fill="#F8766D" fill-opacity="0.8"/>
<circle cx="408.9" cy="363.0" r="0.8" fill="#F8766D" fill-opacity="0.8"/>
<circle cx="421.5" cy="339.7" r="0.8" fill="#F8766D" fill-opacity="0.8"/>
<circle cx="433.6" cy="304.6" r="0.8" fill="#F8766D" fill-opacity="0.8"/>
<circle cx="446.2" cy="281.7" r="0.8" fill="#F8766D" fill-opacity="0.8"/>
<circle cx="458.8" cy="251.5" r="0.8" fill="#F8766D" fill-opacity="0.8"/>
<path d="M383.0,347.4L396.1,344.9L408.9,341.0L421.5,327.9L433.6,303.8L446.2,281.1L458.8,250.9" fill="none" stroke="#7CAE00" stroke-width="0.6" stroke-opacity="0.55" stroke-linejoin="round"/>
<circle cx="383.0" cy="347.4" r="0.8" fill="#7CAE00" fill-opacity="0.8"/>
<circle cx="396.1" cy="344.9" r="0.8" fill="#7CAE00" fill-opacity="0.8"/>
<circle cx="408.9" cy="341.0" r="0.8" fill="#7CAE00" fill-opacity="0.8"/>
<circle cx="421.5" cy="327.9" r="0.8" fill="#7CAE00" fill-opacity="0.8"/>
<circle cx="433.6" cy="303.8" r="0.8" fill="#7CAE00" fill-opacity="0.8"/>
<circle cx="446.2" cy="281.1" r="0.8" fill="#7CAE00" fill-opacity="0.8"/>
<circle cx="458.8" cy="250.9" r="0.8" fill="#7CAE00" fill-opacity="0.8"/>
<path d="M383.0,355.2L396.1,352.9L408.9,348.6L421.5,336.8L433.6,308.9L446.2,288.5L458.8,250.9" fill="none" stroke="#00BFC4" stroke-width="0.6" stroke-opacity="0.55" stroke-linejoin="round"/>
<circle cx="383.0" cy="355.2" r="0.8" fill="#00BFC4" fill-opacity="0.8"/>
<circle cx="396.1" cy="352.9" r="0.8" fill="#00BFC4" fill-opacity="0.8"/>
<circle cx="408.9" cy="348.6" r="0.8" fill="#00BFC4" fill-opacity="0.8"/>
<circle cx="421.5" cy="336.8" r="0.8" fill="#00BFC4" fill-opacity="0.8"/>
<circle cx="433.6" cy="308.9" r="0.8" fill="#00BFC4" fill-opacity="0.8"/>
<circle cx="446.2" cy="288.5" r="0.8" fill="#00BFC4" fill-opacity="0.8"/>
<circle cx="458.8" cy="250.9" r="0.8" fill="#00BFC4" fill-opacity="0.8"/>
<path d="M383.0,343.4L396.1,341.4L408.9,335.7L421.5,331.4L433.6,311.2L446.2,289.4L458.8,258.4" fill="none" stroke="#C77CFF" stroke-width="0.6" stroke-opacity="0.55" stroke-linejoin="round"/>
<circle cx="383.0" cy="343.4" r="0.8" fill="#C77CFF" fill-opacity="0.8"/>
<circle cx="396.1" cy="341.4" r="0.8" fill="#C77CFF" fill-opacity="0.8"/>
<circle cx="408.9" cy="335.7" r="0.8" fill="#C77CFF" fill-opacity="0.8"/>
<circle cx="421.5" cy="331.4" r="0.8" fill="#C77CFF" fill-opacity="0.8"/>
<circle cx="433.6" cy="311.2" r="0.8" fill="#C77CFF" fill-opacity="0.8"/>
<circle cx="446.2" cy="289.4" r="0.8" fill="#C77CFF" fill-opacity="0.8"/>
<circle cx="458.8" cy="258.4" r="0.8" fill="#C77CFF" fill-opacity="0.8"/>
</g>
<line x1="379.60" y1="241.50" x2="379.60" y2="383.82" stroke="#231f20" stroke-width="1.25"/>
<line x1="378.98" y1="383.20" x2="461.90" y2="383.20" stroke="#231f20" stroke-width="1.25"/>
<line x1="376.90" y1="378.00" x2="379.60" y2="378.00" stroke="#231f20" stroke-width="1.1"/>
<text x="373.10" y="380.85" font-size="8.2" text-anchor="end" textLength="3.99" lengthAdjust="spacingAndGlyphs">0</text>
<line x1="376.90" y1="349.07" x2="379.60" y2="349.07" stroke="#231f20" stroke-width="1.1"/>
<text x="373.10" y="351.92" font-size="8.2" text-anchor="end" textLength="11.97" lengthAdjust="spacingAndGlyphs">100</text>
<line x1="376.90" y1="320.14" x2="379.60" y2="320.14" stroke="#231f20" stroke-width="1.1"/>
<text x="373.10" y="322.99" font-size="8.2" text-anchor="end" textLength="11.97" lengthAdjust="spacingAndGlyphs">200</text>
<line x1="376.90" y1="291.21" x2="379.60" y2="291.21" stroke="#231f20" stroke-width="1.1"/>
<text x="373.10" y="294.06" font-size="8.2" text-anchor="end" textLength="11.97" lengthAdjust="spacingAndGlyphs">300</text>
<line x1="376.90" y1="262.28" x2="379.60" y2="262.28" stroke="#231f20" stroke-width="1.1"/>
<text x="373.10" y="265.13" font-size="8.2" text-anchor="end" textLength="11.97" lengthAdjust="spacingAndGlyphs">400</text>
<line x1="383.00" y1="383.20" x2="383.00" y2="386.20" stroke="#231f20" stroke-width="1.1"/>
<text x="383.00" y="396.30" font-size="8.2" text-anchor="middle" textLength="9.97" lengthAdjust="spacingAndGlyphs">0.1</text>
<line x1="414.60" y1="383.20" x2="414.60" y2="386.20" stroke="#231f20" stroke-width="1.1"/>
<text x="414.60" y="396.30" font-size="8.2" text-anchor="middle" textLength="9.97" lengthAdjust="spacingAndGlyphs">1.0</text>
<line x1="446.20" y1="383.20" x2="446.20" y2="386.20" stroke="#231f20" stroke-width="1.1"/>
<text x="446.20" y="396.30" font-size="8.2" text-anchor="middle" textLength="13.96" lengthAdjust="spacingAndGlyphs">10.0</text>
<text x="233.50" y="225.20" font-size="10.5" textLength="6.90" lengthAdjust="spacingAndGlyphs">C</text>
<text x="319.70" y="224.50" font-size="10.0" textLength="90.80" lengthAdjust="spacingAndGlyphs">Effect at 50 nM of FVIIa</text>
<text x="304.90" y="236.40" font-size="8.4" textLength="8.10" lengthAdjust="spacingAndGlyphs">PL</text>
<text x="417.70" y="236.40" font-size="8.4" textLength="6.90" lengthAdjust="spacingAndGlyphs">TF</text>
<text x="309.00" y="409.50" font-size="9.6" text-anchor="middle" textLength="40.20" lengthAdjust="spacingAndGlyphs">Lipid (µM)</text>
<text x="421.10" y="409.50" font-size="9.6" text-anchor="middle" textLength="69.80" lengthAdjust="spacingAndGlyphs">Tissue factor (pM)</text>
<text transform="translate(241.70,311.90) rotate(-90)" font-size="9.6" text-anchor="middle" textLength="106.70" lengthAdjust="spacingAndGlyphs">Peak thrombin height (nM)</text>
<text x="465.70" y="295.00" font-size="7.1" textLength="30.50" lengthAdjust="spacingAndGlyphs">FVIIa (nM)</text>
<line x1="465.00" y1="303.20" x2="473.30" y2="303.20" stroke="#F8766D" stroke-width="0.8" stroke-opacity="0.9"/>
<circle cx="469.1" cy="303.2" r="0.8" fill="#F8766D" fill-opacity="0.8"/>
<text x="476.20" y="305.80" font-size="7.4" textLength="10.81" lengthAdjust="spacingAndGlyphs">WT</text>
<line x1="465.00" y1="313.10" x2="473.30" y2="313.10" stroke="#7CAE00" stroke-width="0.8" stroke-opacity="0.9"/>
<circle cx="469.1" cy="313.1" r="0.8" fill="#7CAE00" fill-opacity="0.8"/>
<text x="476.20" y="315.70" font-size="7.4" textLength="8.76" lengthAdjust="spacingAndGlyphs">VA</text>
<line x1="465.00" y1="322.80" x2="473.30" y2="322.80" stroke="#00BFC4" stroke-width="0.8" stroke-opacity="0.9"/>
<circle cx="469.1" cy="322.8" r="0.8" fill="#00BFC4" fill-opacity="0.8"/>
<text x="476.20" y="325.40" font-size="7.4" textLength="21.65" lengthAdjust="spacingAndGlyphs">N301D</text>
<line x1="465.00" y1="332.50" x2="473.30" y2="332.50" stroke="#C77CFF" stroke-width="0.8" stroke-opacity="0.9"/>
<circle cx="469.1" cy="332.5" r="0.8" fill="#C77CFF" fill-opacity="0.8"/>
<text x="476.20" y="335.10" font-size="7.4" textLength="21.27" lengthAdjust="spacingAndGlyphs">N301E</text>
</g>
<rect x="0" y="0" width="520" height="1.4" fill="#444"/>
<rect x="518.4" y="0" width="1.6" height="419" fill="#444"/>
<rect x="0" y="417.4" width="520" height="1.6" fill="#444"/>
<rect x="0" y="0" width="1.15" height="419" fill="#111"/>
</svg>
</div></body></html>
